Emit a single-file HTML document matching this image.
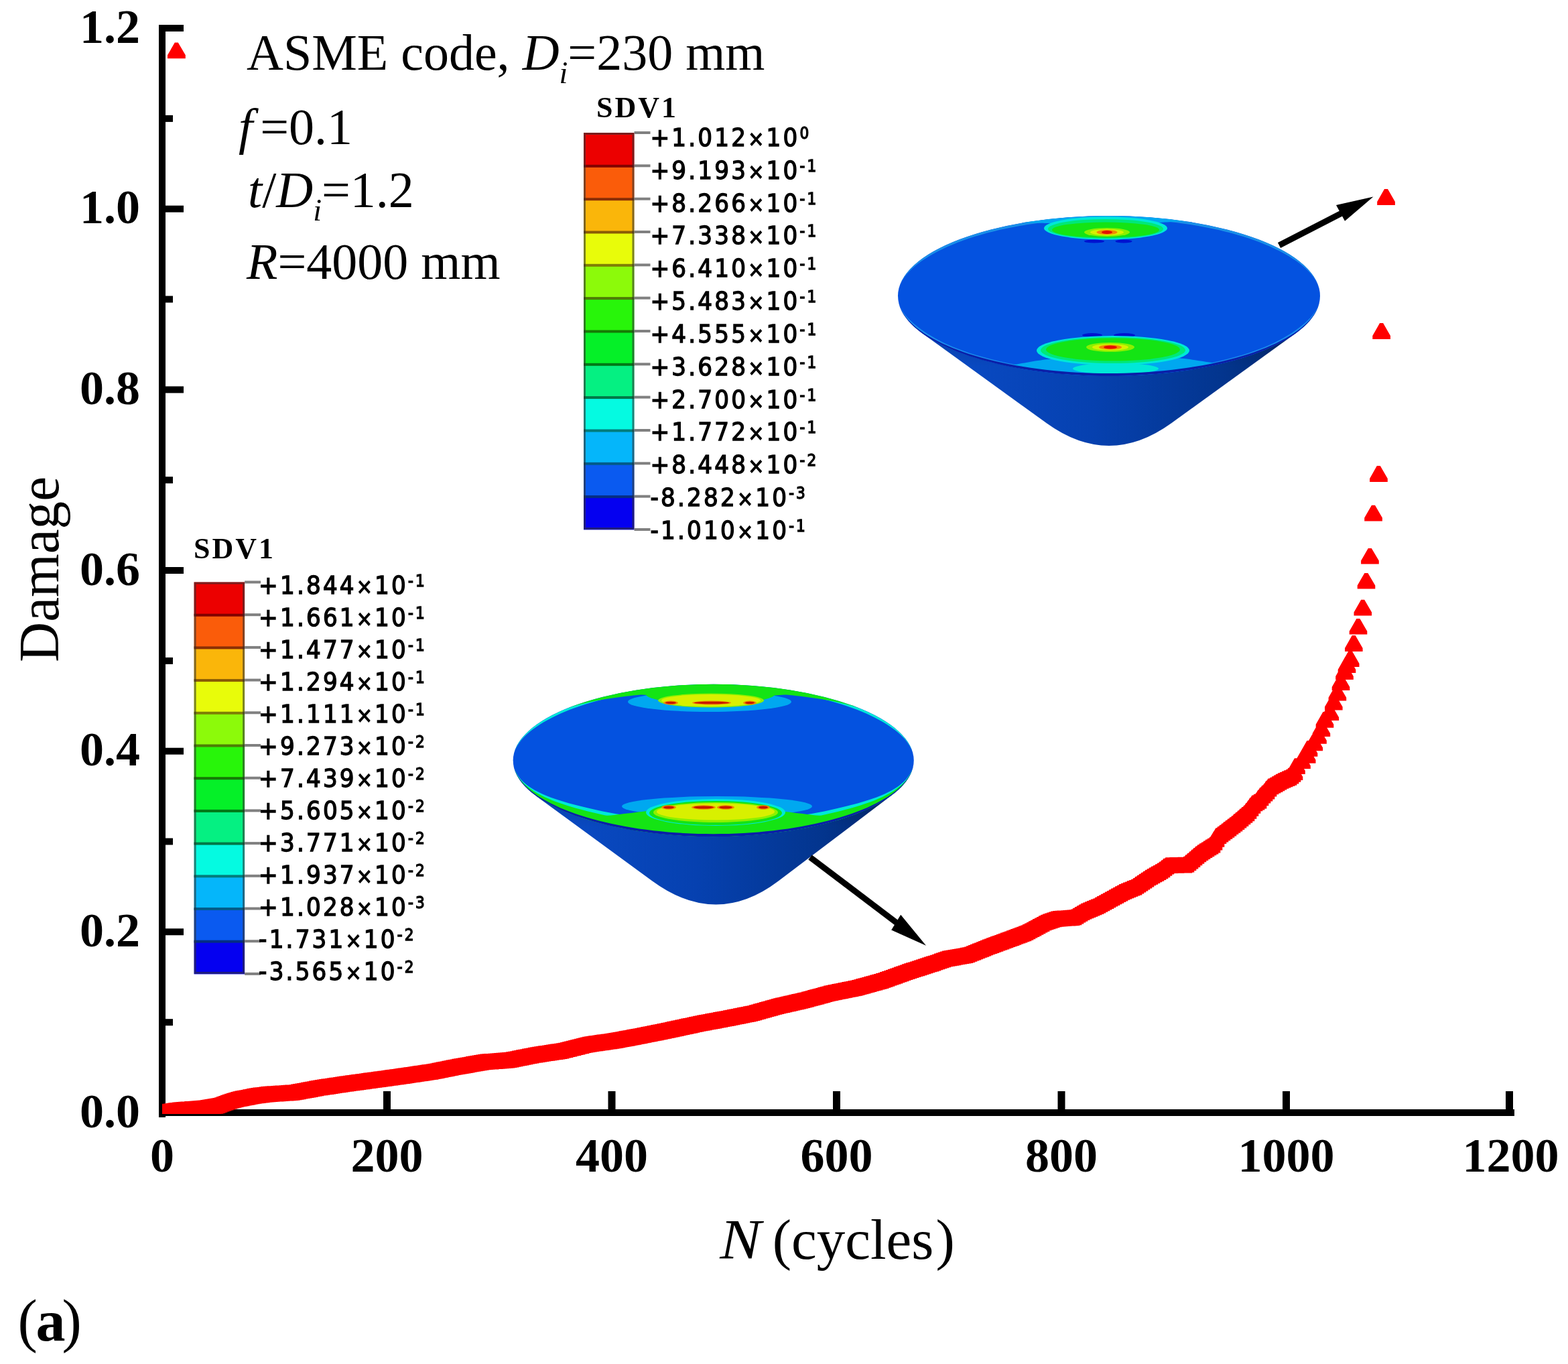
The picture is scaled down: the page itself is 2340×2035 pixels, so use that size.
<!DOCTYPE html><html><head><meta charset="utf-8"><title>Damage vs N</title><style>
html,body{margin:0;padding:0;background:#fff;overflow:hidden}svg{display:block}
.tl{font-family:'Liberation Serif','Times New Roman',serif;font-weight:bold;font-size:72px;fill:#000}
.tx{font-family:'Liberation Serif','Times New Roman',serif;font-size:76px;fill:#000}
.sdv{font-family:'Liberation Serif','Times New Roman',serif;font-weight:bold;font-size:44px;fill:#000;letter-spacing:3px}
.lg{font-family:'DejaVu Sans','Liberation Sans',sans-serif;font-stretch:condensed;font-weight:normal;font-size:38px;fill:#000;stroke:#000;stroke-width:1.3px;letter-spacing:3.2px}
.ex{font-size:24px}.mx{font-size:32px}
</style></head><body>
<svg width="2340" height="2035" viewBox="0 0 2340 2035">
<defs><linearGradient id="sideg" x1="0" y1="0" x2="1" y2="0"><stop offset="0" stop-color="#0a4cc8"/><stop offset="0.45" stop-color="#0641b0"/><stop offset="0.8" stop-color="#03358e"/><stop offset="1" stop-color="#022870"/></linearGradient><linearGradient id="sidev" x1="0" y1="0" x2="0" y2="1"><stop offset="0" stop-color="#000" stop-opacity="0.15"/><stop offset="0.3" stop-color="#000" stop-opacity="0"/><stop offset="1" stop-color="#000" stop-opacity="0"/></linearGradient><radialGradient id="hot" cx="0.5" cy="0.5" r="0.5"><stop offset="0" stop-color="#d01000"/><stop offset="0.12" stop-color="#e8e000"/><stop offset="0.3" stop-color="#20e010"/><stop offset="0.7" stop-color="#10e0b0"/><stop offset="1" stop-color="#10a0e8" stop-opacity="0"/></radialGradient></defs>
<rect width="2340" height="2035" fill="#fff"/>
<path d="M1376.1 497.0 L1561.8 631.3 Q1655.0 698.7 1748.2 631.3 L1933.9 497.0 Z" fill="url(#sideg)"/>
<path d="M1376.1 497.0 L1561.8 631.3 Q1655.0 698.7 1748.2 631.3 L1933.9 497.0 Z" fill="url(#sidev)"/>
<clipPath id="cu"><ellipse cx="1655.0" cy="441.5" rx="315.0" ry="119.5"/></clipPath>
<ellipse cx="1655.0" cy="441.5" rx="315.0" ry="119.5" fill="#0452e0"/>
<g clip-path="url(#cu)">
<path d="M1341.6 429.6 L1342.9 425.2 L1344.7 420.9 L1346.9 416.6 L1349.6 412.3 L1352.6 408.0 L1356.1 403.8 L1359.9 399.7 L1364.2 395.6 L1368.8 391.6 L1373.8 387.6 L1379.2 383.7 L1385.0 379.9 L1391.2 376.2 L1397.7 372.6 L1404.5 369.0 L1411.7 365.6 L1419.2 362.2 L1427.1 359.0 L1435.2 355.9 L1443.7 352.9 L1452.4 350.0 L1461.4 347.2 L1470.7 344.6 L1480.2 342.1 L1489.9 339.7 L1499.9 337.5 L1510.1 335.4 L1520.5 333.4 L1531.0 331.6 L1541.8 330.0 L1552.6 328.5 L1563.7 327.1 L1574.8 325.9 L1586.1 324.9 L1597.4 324.0 L1608.8 323.3 L1620.3 322.7 L1631.9 322.3 L1643.4 322.1 L1655.0 322.0 L1666.6 322.1 L1678.1 322.3 L1689.7 322.7 L1701.2 323.3 L1712.6 324.0 L1723.9 324.9 L1735.2 325.9 L1746.3 327.1 L1757.4 328.5 L1768.2 330.0 L1779.0 331.6 L1789.5 333.4 L1799.9 335.4 L1810.1 337.5 L1820.1 339.7 L1829.8 342.1 L1839.3 344.6 L1848.6 347.2 L1857.6 350.0 L1866.3 352.9 L1874.8 355.9 L1882.9 359.0 L1890.8 362.2 L1898.3 365.6 L1905.5 369.0 L1912.3 372.6 L1918.8 376.2 L1925.0 379.9 L1930.8 383.7 L1936.2 387.6 L1941.2 391.6 L1945.8 395.6 L1950.1 399.7 L1953.9 403.8 L1957.4 408.0 L1960.4 412.3 L1963.1 416.6 L1965.3 420.9 L1967.1 425.2 L1968.4 429.6 L1968.4 429.6 L1966.9 425.2 L1964.9 421.0 L1962.4 416.7 L1959.5 412.6 L1956.2 408.5 L1952.5 404.5 L1948.5 400.5 L1944.0 396.6 L1939.2 392.8 L1934.0 389.1 L1928.5 385.4 L1922.6 381.8 L1916.4 378.3 L1909.9 374.8 L1903.1 371.4 L1896.0 368.1 L1888.5 364.9 L1880.7 361.8 L1872.7 358.8 L1864.3 355.8 L1855.7 353.1 L1846.8 350.4 L1837.6 347.8 L1828.1 345.4 L1818.5 343.1 L1808.6 341.0 L1798.5 338.9 L1788.2 337.1 L1777.8 335.3 L1767.2 333.7 L1756.4 332.3 L1745.5 331.0 L1734.4 329.8 L1723.3 328.8 L1712.0 327.9 L1700.7 327.2 L1689.3 326.7 L1677.9 326.3 L1666.5 326.1 L1655.0 326.0 L1643.5 326.1 L1632.1 326.3 L1620.7 326.7 L1609.3 327.2 L1598.0 327.9 L1586.7 328.8 L1575.6 329.8 L1564.5 331.0 L1553.6 332.3 L1542.8 333.7 L1532.2 335.3 L1521.8 337.1 L1511.5 338.9 L1501.4 341.0 L1491.5 343.1 L1481.9 345.4 L1472.4 347.8 L1463.2 350.4 L1454.3 353.1 L1445.7 355.8 L1437.3 358.8 L1429.3 361.8 L1421.5 364.9 L1414.0 368.1 L1406.9 371.4 L1400.1 374.8 L1393.6 378.3 L1387.4 381.8 L1381.5 385.4 L1376.0 389.1 L1370.8 392.8 L1366.0 396.6 L1361.5 400.5 L1357.5 404.5 L1353.8 408.5 L1350.5 412.6 L1347.6 416.7 L1345.1 421.0 L1343.1 425.2 L1341.6 429.6 Z" fill="#1a90e8"/>
<path d="M1526.3 332.4 L1529.2 331.9 L1532.1 331.5 L1535.0 331.0 L1537.9 330.6 L1540.9 330.1 L1543.8 329.7 L1546.8 329.3 L1549.7 328.9 L1552.7 328.5 L1555.7 328.1 L1558.7 327.7 L1561.7 327.4 L1564.7 327.0 L1567.7 326.7 L1570.7 326.4 L1573.8 326.0 L1576.8 325.7 L1579.9 325.4 L1582.9 325.2 L1586.0 324.9 L1589.1 324.6 L1592.2 324.4 L1595.3 324.2 L1598.4 323.9 L1601.5 323.7 L1604.6 323.5 L1607.7 323.4 L1610.8 323.2 L1613.9 323.0 L1617.0 322.9 L1620.2 322.7 L1623.3 322.6 L1626.4 322.5 L1629.6 322.4 L1632.7 322.3 L1635.9 322.2 L1639.0 322.2 L1642.2 322.1 L1645.3 322.1 L1648.4 322.0 L1651.6 322.0 L1654.7 322.0 L1657.9 322.0 L1661.0 322.0 L1664.2 322.1 L1667.3 322.1 L1670.5 322.1 L1673.6 322.2 L1676.8 322.3 L1679.9 322.4 L1683.1 322.5 L1686.2 322.6 L1689.3 322.7 L1692.5 322.8 L1695.6 323.0 L1698.7 323.2 L1701.8 323.3 L1704.9 323.5 L1708.0 323.7 L1711.1 323.9 L1714.2 324.1 L1717.3 324.4 L1720.4 324.6 L1723.5 324.9 L1726.6 325.1 L1729.6 325.4 L1732.7 325.7 L1735.7 326.0 L1738.8 326.3 L1741.8 326.6 L1744.8 327.0 L1747.8 327.3 L1750.9 327.7 L1753.9 328.0 L1756.8 328.4 L1759.8 328.8 L1762.8 329.2 L1765.7 329.6 L1768.7 330.1 L1771.6 330.5 L1771.6 330.5 L1768.7 330.4 L1765.7 330.4 L1762.8 330.4 L1759.8 330.5 L1756.8 330.6 L1753.9 330.7 L1750.9 330.9 L1747.8 331.1 L1744.8 331.2 L1741.8 331.4 L1738.8 331.6 L1735.7 331.7 L1732.7 331.9 L1729.6 332.0 L1726.6 332.1 L1723.5 332.3 L1720.4 332.3 L1717.3 332.4 L1714.2 332.4 L1711.1 332.4 L1708.0 332.4 L1704.9 332.3 L1701.8 332.2 L1698.7 332.1 L1695.6 331.9 L1692.5 331.8 L1689.3 331.7 L1686.2 331.5 L1683.1 331.4 L1679.9 331.3 L1676.8 331.3 L1673.6 331.2 L1670.5 331.1 L1667.3 331.1 L1664.2 331.0 L1661.0 331.0 L1657.9 331.0 L1654.7 331.0 L1651.6 331.0 L1648.4 331.0 L1645.3 331.1 L1642.2 331.1 L1639.0 331.1 L1635.9 331.2 L1632.7 331.3 L1629.6 331.4 L1626.4 331.5 L1623.3 331.6 L1620.2 331.7 L1617.0 331.8 L1613.9 331.9 L1610.8 332.1 L1607.7 332.3 L1604.6 332.4 L1601.5 332.6 L1598.4 332.8 L1595.3 333.0 L1592.2 333.1 L1589.1 333.2 L1586.0 333.3 L1582.9 333.4 L1579.9 333.4 L1576.8 333.4 L1573.8 333.4 L1570.7 333.3 L1567.7 333.2 L1564.7 333.1 L1561.7 333.0 L1558.7 332.9 L1555.7 332.8 L1552.7 332.7 L1549.7 332.6 L1546.8 332.5 L1543.8 332.4 L1540.9 332.3 L1537.9 332.2 L1535.0 332.2 L1532.1 332.2 L1529.2 332.3 L1526.3 332.4 Z" fill="#00a8f0"/>
<path d="M1968.4 453.4 L1967.1 457.8 L1965.3 462.1 L1963.1 466.4 L1960.4 470.7 L1957.4 475.0 L1953.9 479.2 L1950.1 483.3 L1945.8 487.4 L1941.2 491.4 L1936.2 495.4 L1930.8 499.3 L1925.0 503.1 L1918.8 506.8 L1912.3 510.4 L1905.5 514.0 L1898.3 517.4 L1890.8 520.8 L1882.9 524.0 L1874.8 527.1 L1866.3 530.1 L1857.6 533.0 L1848.6 535.8 L1839.3 538.4 L1829.8 540.9 L1820.1 543.3 L1810.1 545.5 L1799.9 547.6 L1789.5 549.6 L1779.0 551.4 L1768.2 553.0 L1757.4 554.5 L1746.3 555.9 L1735.2 557.1 L1723.9 558.1 L1712.6 559.0 L1701.2 559.7 L1689.7 560.3 L1678.1 560.7 L1666.6 560.9 L1655.0 561.0 L1643.4 560.9 L1631.9 560.7 L1620.3 560.3 L1608.8 559.7 L1597.4 559.0 L1586.1 558.1 L1574.8 557.1 L1563.7 555.9 L1552.6 554.5 L1541.8 553.0 L1531.0 551.4 L1520.5 549.6 L1510.1 547.6 L1499.9 545.5 L1489.9 543.3 L1480.2 540.9 L1470.7 538.4 L1461.4 535.8 L1452.4 533.0 L1443.7 530.1 L1435.2 527.1 L1427.1 524.0 L1419.2 520.8 L1411.7 517.4 L1404.5 514.0 L1397.7 510.4 L1391.2 506.8 L1385.0 503.1 L1379.2 499.3 L1373.8 495.4 L1368.8 491.4 L1364.2 487.4 L1359.9 483.3 L1356.1 479.2 L1352.6 475.0 L1349.6 470.7 L1346.9 466.4 L1344.7 462.1 L1342.9 457.8 L1341.6 453.4 L1341.6 453.4 L1343.3 457.7 L1345.5 462.0 L1348.2 466.1 L1351.3 470.2 L1354.7 474.2 L1358.6 478.1 L1362.7 482.0 L1367.3 485.8 L1372.1 489.5 L1377.3 493.2 L1382.7 496.9 L1388.5 500.5 L1394.5 504.1 L1400.9 507.5 L1407.7 510.9 L1414.8 514.2 L1422.2 517.4 L1430.0 520.5 L1438.0 523.5 L1446.4 526.4 L1455.0 529.2 L1463.9 531.8 L1473.0 534.3 L1482.4 536.7 L1492.0 539.0 L1501.9 541.2 L1511.9 543.2 L1522.2 545.0 L1532.6 546.8 L1543.2 548.3 L1553.9 549.8 L1564.8 551.1 L1575.8 552.2 L1586.9 553.2 L1598.1 554.1 L1609.4 554.8 L1620.8 555.3 L1632.1 555.7 L1643.6 555.9 L1655.0 556.0 L1666.4 555.9 L1677.9 555.7 L1689.2 555.3 L1700.6 554.8 L1711.9 554.1 L1723.1 553.2 L1734.2 552.2 L1745.2 551.1 L1756.1 549.8 L1766.8 548.3 L1777.4 546.8 L1787.8 545.0 L1798.1 543.2 L1808.1 541.2 L1818.0 539.0 L1827.6 536.7 L1837.0 534.3 L1846.1 531.8 L1855.0 529.2 L1863.6 526.4 L1872.0 523.5 L1880.0 520.5 L1887.8 517.4 L1895.2 514.2 L1902.3 510.9 L1909.1 507.5 L1915.5 504.1 L1921.5 500.5 L1927.3 496.9 L1932.7 493.2 L1937.9 489.5 L1942.7 485.8 L1947.3 482.0 L1951.4 478.1 L1955.3 474.2 L1958.7 470.2 L1961.8 466.1 L1964.5 462.0 L1966.7 457.7 L1968.4 453.4 Z" fill="#1a8cec"/>
<path d="M1825.2 542.1 L1821.6 542.9 L1817.9 543.8 L1814.2 544.6 L1810.5 545.4 L1806.7 546.2 L1802.9 547.0 L1799.1 547.8 L1795.3 548.5 L1791.4 549.2 L1787.6 549.9 L1783.6 550.6 L1779.7 551.2 L1775.8 551.9 L1771.8 552.5 L1767.8 553.1 L1763.7 553.7 L1759.7 554.2 L1755.6 554.7 L1751.6 555.2 L1747.5 555.7 L1743.3 556.2 L1739.2 556.7 L1735.1 557.1 L1730.9 557.5 L1726.7 557.9 L1722.5 558.2 L1718.3 558.6 L1714.1 558.9 L1709.9 559.2 L1705.6 559.4 L1701.4 559.7 L1697.1 559.9 L1692.9 560.1 L1688.6 560.3 L1684.3 560.5 L1680.0 560.6 L1675.8 560.7 L1671.5 560.8 L1667.2 560.9 L1662.9 561.0 L1658.6 561.0 L1654.3 561.0 L1650.0 561.0 L1645.7 560.9 L1641.4 560.9 L1637.1 560.8 L1632.8 560.7 L1628.5 560.6 L1624.2 560.4 L1620.0 560.3 L1615.7 560.1 L1611.4 559.9 L1607.2 559.6 L1602.9 559.4 L1598.7 559.1 L1594.5 558.8 L1590.3 558.4 L1586.1 558.1 L1581.9 557.7 L1577.7 557.3 L1573.5 556.9 L1569.4 556.5 L1565.3 556.0 L1561.2 555.6 L1557.1 555.1 L1553.0 554.6 L1548.9 554.0 L1544.9 553.5 L1540.9 552.9 L1536.9 552.3 L1532.9 551.7 L1529.0 551.0 L1525.0 550.4 L1521.1 549.7 L1517.3 549.0 L1513.4 548.2 L1509.6 547.5 L1505.8 546.7 L1502.0 546.0 L1498.3 545.2 L1498.3 545.2 L1502.0 545.2 L1505.8 544.9 L1509.6 544.5 L1513.4 544.0 L1517.3 543.4 L1521.1 542.8 L1525.0 542.1 L1529.0 541.4 L1532.9 540.7 L1536.9 540.0 L1540.9 539.3 L1544.9 538.6 L1548.9 538.0 L1553.0 537.4 L1557.1 536.8 L1561.2 536.3 L1565.3 535.9 L1569.4 535.5 L1573.5 535.2 L1577.7 535.0 L1581.9 534.9 L1586.1 534.9 L1590.3 535.0 L1594.5 535.2 L1598.7 535.5 L1602.9 535.7 L1607.2 535.9 L1611.4 536.1 L1615.7 536.3 L1620.0 536.4 L1624.2 536.5 L1628.5 536.7 L1632.8 536.8 L1637.1 536.8 L1641.4 536.9 L1645.7 537.0 L1650.0 537.0 L1654.3 537.0 L1658.6 537.0 L1662.9 537.0 L1667.2 536.9 L1671.5 536.9 L1675.8 536.8 L1680.0 536.7 L1684.3 536.6 L1688.6 536.5 L1692.9 536.3 L1697.1 536.1 L1701.4 536.0 L1705.6 535.8 L1709.9 535.5 L1714.1 535.3 L1718.3 535.1 L1722.5 534.8 L1726.7 534.5 L1730.9 534.2 L1735.1 533.9 L1739.2 533.8 L1743.3 533.7 L1747.5 533.7 L1751.6 533.8 L1755.6 534.1 L1759.7 534.3 L1763.7 534.7 L1767.8 535.1 L1771.8 535.6 L1775.8 536.1 L1779.7 536.7 L1783.6 537.3 L1787.6 537.9 L1791.4 538.5 L1795.3 539.1 L1799.1 539.7 L1802.9 540.3 L1806.7 540.8 L1810.5 541.3 L1814.2 541.7 L1817.9 542.0 L1821.6 542.2 L1825.2 542.1 Z" fill="#00a8f0"/>
<ellipse cx="1650.0" cy="340.5" rx="92.0" ry="17.0" fill="#00e8d8"/><ellipse cx="1650.0" cy="341.5" rx="86.0" ry="14.5" fill="#00e878"/><ellipse cx="1650.0" cy="343.0" rx="80.0" ry="11.5" fill="#14e414"/><ellipse cx="1652.0" cy="346.5" rx="34.0" ry="6.5" fill="#8cf000"/><ellipse cx="1652.0" cy="346.5" rx="25.0" ry="4.7" fill="#d8f000"/><ellipse cx="1652.0" cy="346.5" rx="15.5" ry="3.5" fill="#f08a00"/><ellipse cx="1652.0" cy="346.5" rx="8.0" ry="2.4" fill="#e41000"/>
<ellipse cx="1633" cy="360" rx="15" ry="2.6" fill="#0012d0"/><ellipse cx="1677" cy="360" rx="12.5" ry="2.6" fill="#0012d0"/>
<ellipse cx="1630" cy="500" rx="15" ry="3" fill="#0012d0"/><ellipse cx="1678" cy="500" rx="16" ry="3" fill="#0012d0"/>
<ellipse cx="1661.0" cy="523.0" rx="114.0" ry="22.0" fill="#00e8d8"/><ellipse cx="1661.0" cy="522.5" rx="108.0" ry="19.5" fill="#00e878"/><ellipse cx="1661.0" cy="521.5" rx="100.0" ry="17.0" fill="#14e414"/><ellipse cx="1657.0" cy="518.0" rx="36.0" ry="7.0" fill="#8cf000"/><ellipse cx="1657.0" cy="518.0" rx="27.0" ry="5.0" fill="#d8f000"/><ellipse cx="1657.0" cy="518.0" rx="17.0" ry="3.6" fill="#f08a00"/><ellipse cx="1657.0" cy="518.0" rx="10.0" ry="2.4" fill="#e41000"/>
<ellipse cx="1665" cy="550" rx="64" ry="8" fill="#00e8d8"/>
</g>
<path d="M1969.6 447.5 L1968.8 452.0 L1967.5 456.5 L1965.8 461.0 L1963.6 465.5 L1961.0 469.9 L1957.9 474.3 L1954.4 478.7 L1950.5 482.9 L1946.1 487.2 L1941.3 491.3 L1936.1 495.4 L1930.5 499.4 L1924.5 503.4 L1918.1 507.2 L1911.3 511.0 L1904.2 514.6 L1896.7 518.1 L1888.8 521.6 L1880.6 524.9 L1872.1 528.1 L1863.3 531.2 L1854.1 534.1 L1844.7 536.9 L1835.0 539.6 L1825.1 542.1 L1814.9 544.5 L1804.4 546.7 L1793.8 548.8 L1782.9 550.7 L1771.9 552.5 L1760.7 554.1 L1749.3 555.5 L1737.8 556.8 L1726.2 557.9 L1714.5 558.8 L1702.7 559.6 L1690.9 560.2 L1678.9 560.7 L1667.0 560.9 L1655.0 561.0 L1643.0 560.9 L1631.1 560.7 L1619.1 560.2 L1607.3 559.6 L1595.5 558.8 L1583.8 557.9 L1572.2 556.8 L1560.7 555.5 L1549.3 554.1 L1538.1 552.5 L1527.1 550.7 L1516.2 548.8 L1505.6 546.7 L1495.1 544.5 L1484.9 542.1 L1475.0 539.6 L1465.3 536.9 L1455.9 534.1 L1446.7 531.2 L1437.9 528.1 L1429.4 524.9 L1421.2 521.6 L1413.3 518.1 L1405.8 514.6 L1398.7 511.0 L1391.9 507.2 L1385.5 503.4 L1379.5 499.4 L1373.9 495.4 L1368.7 491.3 L1363.9 487.2 L1359.5 482.9 L1355.6 478.7 L1352.1 474.3 L1349.0 469.9 L1346.4 465.5 L1344.2 461.0 L1342.5 456.5 L1341.2 452.0 L1340.4 447.5 L1340.4 447.3 L1341.2 451.7 L1342.5 456.0 L1344.2 460.4 L1346.4 464.7 L1349.0 469.0 L1352.1 473.2 L1355.6 477.4 L1359.5 481.6 L1363.9 485.6 L1368.7 489.7 L1373.9 493.6 L1379.5 497.5 L1385.5 501.3 L1391.9 505.0 L1398.7 508.6 L1405.8 512.2 L1413.3 515.6 L1421.2 518.9 L1429.4 522.1 L1437.9 525.2 L1446.7 528.2 L1455.9 531.0 L1465.3 533.7 L1475.0 536.3 L1484.9 538.7 L1495.1 541.0 L1505.6 543.2 L1516.2 545.2 L1527.1 547.0 L1538.1 548.8 L1549.3 550.3 L1560.7 551.7 L1572.2 552.9 L1583.8 554.0 L1595.5 554.9 L1607.3 555.7 L1619.1 556.2 L1631.1 556.7 L1643.0 556.9 L1655.0 557.0 L1667.0 556.9 L1678.9 556.7 L1690.9 556.2 L1702.7 555.7 L1714.5 554.9 L1726.2 554.0 L1737.8 552.9 L1749.3 551.7 L1760.7 550.3 L1771.9 548.8 L1782.9 547.0 L1793.8 545.2 L1804.4 543.2 L1814.9 541.0 L1825.1 538.7 L1835.0 536.3 L1844.7 533.7 L1854.1 531.0 L1863.3 528.2 L1872.1 525.2 L1880.6 522.1 L1888.8 518.9 L1896.7 515.6 L1904.2 512.2 L1911.3 508.6 L1918.1 505.0 L1924.5 501.3 L1930.5 497.5 L1936.1 493.6 L1941.3 489.7 L1946.1 485.6 L1950.5 481.6 L1954.4 477.4 L1957.9 473.2 L1961.0 469.0 L1963.6 464.7 L1965.8 460.4 L1967.5 456.0 L1968.8 451.7 L1969.6 447.3 Z" fill="#0a1fa8"/>
<path d="M799.3 1186.9 L973.2 1314.3 Q1069.2 1384.7 1161.9 1314.3 L1331.9 1185.5 Z" fill="url(#sideg)"/>
<path d="M799.3 1186.9 L973.2 1314.3 Q1069.2 1384.7 1161.9 1314.3 L1331.9 1185.5 Z" fill="url(#sidev)"/>
<clipPath id="cl"><ellipse cx="1064.7" cy="1134.5" rx="299.0" ry="113.7"/></clipPath>
<ellipse cx="1064.7" cy="1134.5" rx="299.0" ry="113.7" fill="#0452e0"/>
<g clip-path="url(#cl)">
<path d="M767.2 1123.1 L768.5 1119.0 L770.2 1114.9 L772.3 1110.8 L774.8 1106.7 L777.7 1102.7 L780.9 1098.7 L784.6 1094.7 L788.6 1090.8 L793.0 1087.0 L797.8 1083.2 L802.9 1079.5 L808.4 1075.9 L814.3 1072.4 L820.4 1068.9 L827.0 1065.6 L833.8 1062.3 L840.9 1059.1 L848.4 1056.0 L856.1 1053.0 L864.1 1050.2 L872.4 1047.4 L880.9 1044.8 L889.7 1042.3 L898.8 1039.9 L908.0 1037.7 L917.5 1035.5 L927.2 1033.5 L937.0 1031.7 L947.0 1030.0 L957.2 1028.4 L967.5 1027.0 L978.0 1025.7 L988.6 1024.5 L999.3 1023.6 L1010.0 1022.7 L1020.9 1022.0 L1031.8 1021.5 L1042.7 1021.1 L1053.7 1020.9 L1064.7 1020.8 L1075.7 1020.9 L1086.7 1021.1 L1097.6 1021.5 L1108.5 1022.0 L1119.4 1022.7 L1130.1 1023.6 L1140.8 1024.5 L1151.4 1025.7 L1161.9 1027.0 L1172.2 1028.4 L1182.4 1030.0 L1192.4 1031.7 L1202.2 1033.5 L1211.9 1035.5 L1221.4 1037.7 L1230.6 1039.9 L1239.7 1042.3 L1248.5 1044.8 L1257.0 1047.4 L1265.3 1050.2 L1273.3 1053.0 L1281.0 1056.0 L1288.5 1059.1 L1295.6 1062.3 L1302.4 1065.6 L1309.0 1068.9 L1315.1 1072.4 L1321.0 1075.9 L1326.5 1079.5 L1331.6 1083.2 L1336.4 1087.0 L1340.8 1090.8 L1344.8 1094.7 L1348.5 1098.7 L1351.7 1102.7 L1354.6 1106.7 L1357.1 1110.8 L1359.2 1114.9 L1360.9 1119.0 L1362.2 1123.1 L1362.2 1123.1 L1360.7 1119.0 L1358.8 1115.0 L1356.4 1111.0 L1353.7 1107.0 L1350.6 1103.1 L1347.1 1099.3 L1343.2 1095.5 L1338.9 1091.8 L1334.4 1088.2 L1329.4 1084.7 L1324.2 1081.2 L1318.6 1077.8 L1312.7 1074.5 L1306.6 1071.2 L1300.1 1068.0 L1293.3 1064.8 L1286.2 1061.7 L1278.9 1058.8 L1271.2 1055.9 L1263.3 1053.2 L1255.1 1050.5 L1246.6 1048.0 L1237.9 1045.5 L1229.0 1043.2 L1219.8 1041.1 L1210.4 1039.0 L1200.9 1037.1 L1191.1 1035.3 L1181.2 1033.7 L1171.1 1032.1 L1160.9 1030.8 L1150.5 1029.5 L1140.0 1028.4 L1129.5 1027.5 L1118.8 1026.6 L1108.1 1026.0 L1097.3 1025.5 L1086.4 1025.1 L1075.6 1024.9 L1064.7 1024.8 L1053.8 1024.9 L1043.0 1025.1 L1032.1 1025.5 L1021.3 1026.0 L1010.6 1026.6 L999.9 1027.5 L989.4 1028.4 L978.9 1029.5 L968.5 1030.8 L958.3 1032.1 L948.2 1033.7 L938.3 1035.3 L928.5 1037.1 L919.0 1039.0 L909.6 1041.1 L900.4 1043.2 L891.5 1045.5 L882.8 1048.0 L874.3 1050.5 L866.1 1053.2 L858.2 1055.9 L850.5 1058.8 L843.2 1061.7 L836.1 1064.8 L829.3 1068.0 L822.8 1071.2 L816.7 1074.5 L810.8 1077.8 L805.2 1081.2 L800.0 1084.7 L795.0 1088.2 L790.5 1091.8 L786.2 1095.5 L782.3 1099.3 L778.8 1103.1 L775.7 1107.0 L773.0 1111.0 L770.6 1115.0 L768.7 1119.0 L767.2 1123.1 Z" fill="#00e8d8"/>
<path d="M845.9 1057.0 L850.2 1055.3 L854.5 1053.6 L858.9 1052.0 L863.4 1050.4 L867.9 1048.9 L872.6 1047.4 L877.4 1045.9 L882.2 1044.4 L887.1 1043.0 L892.0 1041.7 L897.1 1040.3 L902.2 1039.1 L907.4 1037.8 L912.6 1036.6 L918.0 1035.4 L923.3 1034.3 L928.8 1033.2 L934.3 1032.2 L939.8 1031.2 L945.4 1030.2 L951.1 1029.3 L956.8 1028.5 L962.5 1027.6 L968.3 1026.9 L974.1 1026.1 L980.0 1025.5 L985.9 1024.8 L991.8 1024.2 L997.8 1023.7 L1003.8 1023.2 L1009.8 1022.7 L1015.8 1022.3 L1021.9 1022.0 L1028.0 1021.7 L1034.1 1021.4 L1040.2 1021.2 L1046.3 1021.0 L1052.4 1020.9 L1058.6 1020.8 L1064.7 1020.8 L1070.8 1020.8 L1077.0 1020.9 L1083.1 1021.0 L1089.2 1021.2 L1095.3 1021.4 L1101.4 1021.7 L1107.5 1022.0 L1113.6 1022.3 L1119.6 1022.7 L1125.6 1023.2 L1131.6 1023.7 L1137.6 1024.2 L1143.5 1024.8 L1149.4 1025.5 L1155.3 1026.1 L1161.1 1026.9 L1166.9 1027.6 L1172.6 1028.5 L1178.3 1029.3 L1184.0 1030.2 L1189.6 1031.2 L1195.1 1032.2 L1200.6 1033.2 L1206.1 1034.3 L1211.4 1035.4 L1216.8 1036.6 L1222.0 1037.8 L1227.2 1039.1 L1232.3 1040.3 L1237.4 1041.7 L1242.3 1043.0 L1247.2 1044.4 L1252.0 1045.9 L1256.8 1047.4 L1261.5 1048.9 L1266.0 1050.4 L1270.5 1052.0 L1274.9 1053.6 L1279.2 1055.3 L1283.5 1057.0 L1283.5 1057.0 L1279.2 1055.5 L1274.9 1054.1 L1270.5 1052.8 L1266.0 1051.5 L1261.5 1050.3 L1256.8 1049.2 L1252.0 1048.1 L1247.2 1047.1 L1242.3 1046.1 L1237.4 1045.1 L1232.3 1044.2 L1227.2 1043.3 L1222.0 1042.5 L1216.8 1041.7 L1211.4 1040.9 L1206.1 1040.2 L1200.6 1039.5 L1195.1 1038.8 L1189.6 1038.2 L1184.0 1037.5 L1178.3 1036.9 L1172.6 1036.3 L1166.9 1035.7 L1161.1 1035.1 L1155.3 1034.6 L1149.4 1034.0 L1143.5 1033.5 L1137.6 1033.0 L1131.6 1032.5 L1125.6 1032.0 L1119.6 1031.6 L1113.6 1031.2 L1107.5 1030.9 L1101.4 1030.6 L1095.3 1030.4 L1089.2 1030.2 L1083.1 1030.0 L1077.0 1029.9 L1070.8 1029.8 L1064.7 1029.8 L1058.6 1029.8 L1052.4 1029.9 L1046.3 1030.0 L1040.2 1030.2 L1034.1 1030.4 L1028.0 1030.6 L1021.9 1030.9 L1015.8 1031.2 L1009.8 1031.6 L1003.8 1032.0 L997.8 1032.5 L991.8 1033.0 L985.9 1033.5 L980.0 1034.0 L974.1 1034.6 L968.3 1035.1 L962.5 1035.7 L956.8 1036.3 L951.1 1036.9 L945.4 1037.5 L939.8 1038.2 L934.3 1038.8 L928.8 1039.5 L923.3 1040.2 L918.0 1040.9 L912.6 1041.7 L907.4 1042.5 L902.2 1043.3 L897.1 1044.2 L892.0 1045.1 L887.1 1046.1 L882.2 1047.1 L877.4 1048.1 L872.6 1049.2 L867.9 1050.3 L863.4 1051.5 L858.9 1052.8 L854.5 1054.1 L850.2 1055.5 L845.9 1057.0 Z" fill="#14e414"/>
<ellipse cx="1059.0" cy="1047.0" rx="122.0" ry="15.0" fill="#00a8f0"/>
<path d="M915.9 1035.9 L919.3 1035.1 L922.7 1034.4 L926.2 1033.7 L929.6 1033.1 L933.1 1032.4 L936.6 1031.8 L940.1 1031.1 L943.7 1030.5 L947.3 1029.9 L950.9 1029.4 L954.5 1028.8 L958.1 1028.3 L961.7 1027.8 L965.4 1027.3 L969.1 1026.8 L972.8 1026.3 L976.5 1025.9 L980.2 1025.4 L984.0 1025.0 L987.7 1024.6 L991.5 1024.3 L995.3 1023.9 L999.1 1023.6 L1002.9 1023.3 L1006.7 1023.0 L1010.5 1022.7 L1014.3 1022.4 L1018.2 1022.2 L1022.0 1022.0 L1025.9 1021.8 L1029.7 1021.6 L1033.6 1021.4 L1037.5 1021.3 L1041.4 1021.1 L1045.2 1021.0 L1049.1 1021.0 L1053.0 1020.9 L1056.9 1020.8 L1060.8 1020.8 L1064.7 1020.8 L1068.6 1020.8 L1072.5 1020.8 L1076.4 1020.9 L1080.3 1021.0 L1084.2 1021.0 L1088.0 1021.1 L1091.9 1021.3 L1095.8 1021.4 L1099.7 1021.6 L1103.5 1021.8 L1107.4 1022.0 L1111.2 1022.2 L1115.1 1022.4 L1118.9 1022.7 L1122.7 1023.0 L1126.5 1023.3 L1130.3 1023.6 L1134.1 1023.9 L1137.9 1024.3 L1141.7 1024.6 L1145.4 1025.0 L1149.2 1025.4 L1152.9 1025.9 L1156.6 1026.3 L1160.3 1026.8 L1164.0 1027.3 L1167.7 1027.8 L1171.3 1028.3 L1174.9 1028.8 L1178.5 1029.4 L1182.1 1029.9 L1185.7 1030.5 L1189.3 1031.1 L1192.8 1031.8 L1196.3 1032.4 L1199.8 1033.1 L1203.2 1033.7 L1206.7 1034.4 L1210.1 1035.1 L1213.5 1035.9 L1213.5 1035.9 L1210.1 1035.6 L1206.7 1035.4 L1203.2 1035.3 L1199.8 1035.3 L1196.3 1035.4 L1192.8 1035.4 L1189.3 1035.6 L1185.7 1035.7 L1182.1 1035.9 L1178.5 1036.1 L1174.9 1036.3 L1171.3 1036.6 L1167.7 1036.8 L1164.0 1037.1 L1160.3 1037.3 L1156.6 1037.6 L1152.9 1037.9 L1149.2 1038.1 L1145.4 1038.3 L1141.7 1038.6 L1137.9 1038.8 L1134.1 1039.0 L1130.3 1039.1 L1126.5 1039.3 L1122.7 1039.4 L1118.9 1039.5 L1115.1 1039.5 L1111.2 1039.6 L1107.4 1039.5 L1103.5 1039.5 L1099.7 1039.4 L1095.8 1039.3 L1091.9 1039.2 L1088.0 1039.1 L1084.2 1039.0 L1080.3 1038.9 L1076.4 1038.9 L1072.5 1038.8 L1068.6 1038.8 L1064.7 1038.8 L1060.8 1038.8 L1056.9 1038.8 L1053.0 1038.9 L1049.1 1038.9 L1045.2 1039.0 L1041.4 1039.1 L1037.5 1039.2 L1033.6 1039.3 L1029.7 1039.4 L1025.9 1039.5 L1022.0 1039.5 L1018.2 1039.6 L1014.3 1039.5 L1010.5 1039.5 L1006.7 1039.4 L1002.9 1039.3 L999.1 1039.1 L995.3 1039.0 L991.5 1038.8 L987.7 1038.6 L984.0 1038.3 L980.2 1038.1 L976.5 1037.9 L972.8 1037.6 L969.1 1037.3 L965.4 1037.1 L961.7 1036.8 L958.1 1036.6 L954.5 1036.3 L950.9 1036.1 L947.3 1035.9 L943.7 1035.7 L940.1 1035.6 L936.6 1035.4 L933.1 1035.4 L929.6 1035.3 L926.2 1035.3 L922.7 1035.4 L919.3 1035.6 L915.9 1035.9 Z" fill="#14e414"/>
<ellipse cx="1060.0" cy="1036.0" rx="96.0" ry="14.0" fill="#14e414"/>
<ellipse cx="1061.0" cy="1045.0" rx="79.0" ry="10.5" fill="#8cf000"/><ellipse cx="1061.0" cy="1045.0" rx="74.0" ry="9.0" fill="#d8f000"/>
<ellipse cx="1001" cy="1048.5" rx="11" ry="3" fill="#f08a00"/>
<ellipse cx="1001" cy="1048.5" rx="8" ry="1.8" fill="#c81800"/>
<ellipse cx="1062" cy="1048.5" rx="29" ry="3" fill="#f08a00"/>
<ellipse cx="1062" cy="1048.5" rx="26" ry="1.8" fill="#c81800"/>
<ellipse cx="1119" cy="1048.5" rx="10" ry="3" fill="#f08a00"/>
<ellipse cx="1119" cy="1048.5" rx="7" ry="1.8" fill="#c81800"/>
<ellipse cx="1070.0" cy="1203.0" rx="142.0" ry="15.0" fill="#00a8f0"/>
<path d="M1362.7 1143.6 L1361.6 1147.8 L1360.1 1152.0 L1358.2 1156.2 L1355.9 1160.3 L1353.2 1164.4 L1350.0 1168.5 L1346.5 1172.5 L1342.6 1176.5 L1338.3 1180.4 L1333.6 1184.2 L1328.5 1188.0 L1323.1 1191.7 L1317.3 1195.3 L1311.2 1198.9 L1304.7 1202.3 L1297.9 1205.7 L1290.7 1208.9 L1283.3 1212.1 L1275.5 1215.1 L1267.5 1218.0 L1259.2 1220.9 L1250.6 1223.6 L1241.7 1226.1 L1232.6 1228.6 L1223.3 1230.9 L1213.7 1233.1 L1204.0 1235.1 L1194.0 1237.0 L1183.9 1238.8 L1173.6 1240.4 L1163.1 1241.9 L1152.5 1243.2 L1141.8 1244.4 L1131.0 1245.4 L1120.1 1246.2 L1109.1 1246.9 L1098.1 1247.5 L1087.0 1247.9 L1075.8 1248.1 L1064.7 1248.2 L1053.6 1248.1 L1042.4 1247.9 L1031.3 1247.5 L1020.3 1246.9 L1009.3 1246.2 L998.4 1245.4 L987.6 1244.4 L976.9 1243.2 L966.3 1241.9 L955.8 1240.4 L945.5 1238.8 L935.4 1237.0 L925.4 1235.1 L915.7 1233.1 L906.1 1230.9 L896.8 1228.6 L887.7 1226.1 L878.8 1223.6 L870.2 1220.9 L861.9 1218.0 L853.9 1215.1 L846.1 1212.1 L838.7 1208.9 L831.5 1205.7 L824.7 1202.3 L818.2 1198.9 L812.1 1195.3 L806.3 1191.7 L800.9 1188.0 L795.8 1184.2 L791.1 1180.4 L786.8 1176.5 L782.9 1172.5 L779.4 1168.5 L776.2 1164.4 L773.5 1160.3 L771.2 1156.2 L769.3 1152.0 L767.8 1147.8 L766.7 1143.6 L766.7 1143.6 L767.9 1147.7 L769.7 1151.7 L771.9 1155.6 L774.5 1159.3 L777.5 1162.9 L780.9 1166.4 L784.7 1169.7 L788.8 1172.9 L793.4 1176.0 L798.3 1178.9 L803.6 1181.7 L809.2 1184.4 L815.1 1187.0 L821.3 1189.4 L827.9 1191.8 L834.8 1194.1 L842.0 1196.3 L849.4 1198.4 L857.2 1200.5 L865.2 1202.5 L873.4 1204.5 L881.9 1206.5 L890.6 1208.4 L899.6 1210.4 L908.8 1212.2 L918.2 1214.0 L927.8 1215.6 L937.6 1217.2 L947.5 1218.6 L957.6 1219.9 L967.9 1221.1 L978.3 1222.2 L988.9 1223.1 L999.5 1223.9 L1010.2 1224.6 L1021.0 1225.2 L1031.9 1225.6 L1042.8 1225.9 L1053.7 1226.1 L1064.7 1226.2 L1075.7 1226.1 L1086.6 1225.9 L1097.5 1225.6 L1108.4 1225.2 L1119.2 1224.6 L1129.9 1223.9 L1140.5 1223.1 L1151.1 1222.2 L1161.5 1221.1 L1171.8 1219.9 L1181.9 1218.6 L1191.8 1217.2 L1201.6 1215.6 L1211.2 1214.0 L1220.6 1212.2 L1229.8 1210.4 L1238.8 1208.4 L1247.5 1206.5 L1256.0 1204.5 L1264.2 1202.5 L1272.2 1200.5 L1280.0 1198.4 L1287.4 1196.3 L1294.6 1194.1 L1301.5 1191.8 L1308.1 1189.4 L1314.3 1187.0 L1320.2 1184.4 L1325.8 1181.7 L1331.1 1178.9 L1336.0 1176.0 L1340.6 1172.9 L1344.7 1169.7 L1348.5 1166.4 L1351.9 1162.9 L1354.9 1159.3 L1357.5 1155.6 L1359.7 1151.7 L1361.5 1147.7 L1362.7 1143.6 Z" fill="#00e8d8"/>
<path d="M1361.5 1148.1 L1360.1 1152.2 L1358.2 1156.3 L1355.9 1160.3 L1353.3 1164.3 L1350.2 1168.2 L1346.8 1172.2 L1343.0 1176.0 L1338.9 1179.8 L1334.4 1183.6 L1329.5 1187.3 L1324.3 1190.9 L1318.8 1194.4 L1312.9 1197.9 L1306.7 1201.3 L1300.2 1204.6 L1293.3 1207.8 L1286.2 1210.9 L1278.8 1213.9 L1271.0 1216.8 L1263.1 1219.6 L1254.8 1222.3 L1246.3 1224.8 L1237.6 1227.3 L1228.6 1229.6 L1219.5 1231.8 L1210.1 1233.9 L1200.5 1235.8 L1190.8 1237.6 L1180.9 1239.3 L1170.8 1240.8 L1160.6 1242.2 L1150.2 1243.4 L1139.8 1244.6 L1129.3 1245.5 L1118.6 1246.3 L1107.9 1247.0 L1097.2 1247.5 L1086.4 1247.9 L1075.5 1248.1 L1064.7 1248.2 L1053.9 1248.1 L1043.0 1247.9 L1032.2 1247.5 L1021.5 1247.0 L1010.8 1246.3 L1000.1 1245.5 L989.6 1244.6 L979.2 1243.4 L968.8 1242.2 L958.6 1240.8 L948.5 1239.3 L938.6 1237.6 L928.9 1235.8 L919.3 1233.9 L909.9 1231.8 L900.8 1229.6 L891.8 1227.3 L883.1 1224.8 L874.6 1222.3 L866.3 1219.6 L858.4 1216.8 L850.6 1213.9 L843.2 1210.9 L836.1 1207.8 L829.2 1204.6 L822.7 1201.3 L816.5 1197.9 L810.6 1194.4 L805.1 1190.9 L799.9 1187.3 L795.0 1183.6 L790.5 1179.8 L786.4 1176.0 L782.6 1172.2 L779.2 1168.2 L776.1 1164.3 L773.5 1160.3 L771.2 1156.3 L769.3 1152.2 L767.9 1148.1 L767.9 1148.1 L769.5 1152.1 L771.5 1156.0 L773.9 1159.8 L776.7 1163.5 L779.9 1167.0 L783.5 1170.5 L787.4 1173.8 L791.7 1177.1 L796.3 1180.2 L801.3 1183.2 L806.6 1186.1 L812.3 1188.9 L818.3 1191.6 L824.5 1194.2 L831.1 1196.7 L838.0 1199.1 L845.2 1201.4 L852.6 1203.7 L860.3 1205.9 L868.2 1208.1 L876.4 1210.2 L884.9 1212.2 L893.5 1214.2 L902.4 1216.2 L911.5 1218.1 L920.8 1219.9 L930.2 1221.5 L939.9 1223.1 L949.7 1224.5 L959.7 1225.8 L969.8 1227.0 L980.0 1228.1 L990.4 1229.1 L1000.8 1229.9 L1011.3 1230.6 L1021.9 1231.2 L1032.6 1231.6 L1043.2 1231.9 L1054.0 1232.1 L1064.7 1232.2 L1075.4 1232.1 L1086.2 1231.9 L1096.8 1231.6 L1107.5 1231.2 L1118.1 1230.6 L1128.6 1229.9 L1139.0 1229.1 L1149.4 1228.1 L1159.6 1227.0 L1169.7 1225.8 L1179.7 1224.5 L1189.5 1223.1 L1199.2 1221.5 L1208.6 1219.9 L1217.9 1218.1 L1227.0 1216.2 L1235.9 1214.2 L1244.5 1212.2 L1253.0 1210.2 L1261.2 1208.1 L1269.1 1205.9 L1276.8 1203.7 L1284.2 1201.4 L1291.4 1199.1 L1298.3 1196.7 L1304.9 1194.2 L1311.1 1191.6 L1317.1 1188.9 L1322.8 1186.1 L1328.1 1183.2 L1333.1 1180.2 L1337.7 1177.1 L1342.0 1173.8 L1345.9 1170.5 L1349.5 1167.0 L1352.7 1163.5 L1355.5 1159.8 L1357.9 1156.0 L1359.9 1152.1 L1361.5 1148.1 Z" fill="#14e414"/>
<path d="M1273.0 1216.1 L1268.8 1217.6 L1264.6 1219.1 L1260.3 1220.5 L1255.9 1221.9 L1251.4 1223.3 L1246.9 1224.7 L1242.3 1226.0 L1237.6 1227.3 L1232.9 1228.5 L1228.1 1229.7 L1223.2 1230.9 L1218.3 1232.0 L1213.3 1233.2 L1208.3 1234.2 L1203.2 1235.3 L1198.1 1236.3 L1192.9 1237.2 L1187.7 1238.1 L1182.4 1239.0 L1177.1 1239.9 L1171.7 1240.7 L1166.3 1241.4 L1160.9 1242.2 L1155.4 1242.8 L1149.9 1243.5 L1144.4 1244.1 L1138.8 1244.7 L1133.2 1245.2 L1127.6 1245.7 L1122.0 1246.1 L1116.3 1246.5 L1110.6 1246.9 L1104.9 1247.2 L1099.2 1247.4 L1093.5 1247.7 L1087.7 1247.9 L1082.0 1248.0 L1076.2 1248.1 L1070.5 1248.2 L1064.7 1248.2 L1058.9 1248.2 L1053.2 1248.1 L1047.4 1248.0 L1041.7 1247.9 L1035.9 1247.7 L1030.2 1247.4 L1024.5 1247.2 L1018.8 1246.9 L1013.1 1246.5 L1007.4 1246.1 L1001.8 1245.7 L996.2 1245.2 L990.6 1244.7 L985.0 1244.1 L979.5 1243.5 L974.0 1242.8 L968.5 1242.2 L963.1 1241.4 L957.7 1240.7 L952.3 1239.9 L947.0 1239.0 L941.7 1238.1 L936.5 1237.2 L931.3 1236.3 L926.2 1235.3 L921.1 1234.2 L916.1 1233.2 L911.1 1232.0 L906.2 1230.9 L901.3 1229.7 L896.5 1228.5 L891.8 1227.3 L887.1 1226.0 L882.5 1224.7 L878.0 1223.3 L873.5 1221.9 L869.1 1220.5 L864.8 1219.1 L860.6 1217.6 L856.4 1216.1 L856.4 1216.1 L860.6 1216.9 L864.8 1217.4 L869.1 1217.7 L873.5 1218.0 L878.0 1218.1 L882.5 1218.1 L887.1 1218.0 L891.8 1217.8 L896.5 1217.5 L901.3 1217.2 L906.2 1216.8 L911.1 1216.4 L916.1 1215.9 L921.1 1215.3 L926.2 1214.7 L931.3 1214.1 L936.5 1213.5 L941.7 1212.9 L947.0 1212.2 L952.3 1211.6 L957.7 1211.0 L963.1 1210.3 L968.5 1209.7 L974.0 1209.2 L979.5 1208.6 L985.0 1208.1 L990.6 1207.6 L996.2 1207.2 L1001.8 1206.9 L1007.4 1206.6 L1013.1 1206.3 L1018.8 1206.1 L1024.5 1206.0 L1030.2 1205.9 L1035.9 1205.9 L1041.7 1206.0 L1047.4 1206.1 L1053.2 1206.1 L1058.9 1206.2 L1064.7 1206.2 L1070.5 1206.2 L1076.2 1206.1 L1082.0 1206.1 L1087.7 1206.0 L1093.5 1205.9 L1099.2 1205.9 L1104.9 1206.0 L1110.6 1206.1 L1116.3 1206.3 L1122.0 1206.6 L1127.6 1206.9 L1133.2 1207.2 L1138.8 1207.6 L1144.4 1208.1 L1149.9 1208.6 L1155.4 1209.2 L1160.9 1209.7 L1166.3 1210.3 L1171.7 1211.0 L1177.1 1211.6 L1182.4 1212.2 L1187.7 1212.9 L1192.9 1213.5 L1198.1 1214.1 L1203.2 1214.7 L1208.3 1215.3 L1213.3 1215.9 L1218.3 1216.4 L1223.2 1216.8 L1228.1 1217.2 L1232.9 1217.5 L1237.6 1217.8 L1242.3 1218.0 L1246.9 1218.1 L1251.4 1218.1 L1255.9 1218.0 L1260.3 1217.7 L1264.6 1217.4 L1268.8 1216.9 L1273.0 1216.1 Z" fill="#14e414"/>
<ellipse cx="1068.0" cy="1212.0" rx="104.0" ry="20.0" fill="#00e8d8"/><ellipse cx="1068.0" cy="1213.0" rx="99.0" ry="18.0" fill="#14e414"/><ellipse cx="1068.0" cy="1212.0" rx="93.0" ry="15.0" fill="#8cf000"/><ellipse cx="1068.0" cy="1211.0" rx="88.0" ry="12.5" fill="#d8f000"/>
<ellipse cx="998" cy="1204.5" rx="11" ry="3.2" fill="#f08a00"/>
<ellipse cx="998" cy="1204.5" rx="8" ry="2" fill="#c81800"/>
<ellipse cx="1050" cy="1204.5" rx="18" ry="3.2" fill="#f08a00"/>
<ellipse cx="1050" cy="1204.5" rx="15" ry="2" fill="#c81800"/>
<ellipse cx="1083" cy="1204.5" rx="13" ry="3.2" fill="#f08a00"/>
<ellipse cx="1083" cy="1204.5" rx="10" ry="2" fill="#c81800"/>
<ellipse cx="1139" cy="1204.5" rx="10" ry="3.2" fill="#f08a00"/>
<ellipse cx="1139" cy="1204.5" rx="7" ry="2" fill="#c81800"/>
</g>
<path d="M1363.3 1140.2 L1362.5 1144.5 L1361.3 1148.8 L1359.7 1153.1 L1357.6 1157.3 L1355.1 1161.5 L1352.2 1165.7 L1348.9 1169.8 L1345.1 1173.9 L1341.0 1178.0 L1336.5 1181.9 L1331.5 1185.8 L1326.2 1189.6 L1320.5 1193.4 L1314.4 1197.0 L1308.0 1200.6 L1301.2 1204.1 L1294.1 1207.4 L1286.6 1210.7 L1278.9 1213.8 L1270.8 1216.9 L1262.4 1219.8 L1253.7 1222.6 L1244.8 1225.3 L1235.6 1227.8 L1226.1 1230.2 L1216.4 1232.5 L1206.5 1234.6 L1196.4 1236.6 L1186.1 1238.4 L1175.7 1240.1 L1165.0 1241.6 L1154.2 1243.0 L1143.3 1244.2 L1132.3 1245.3 L1121.2 1246.2 L1110.0 1246.9 L1098.7 1247.5 L1087.4 1247.9 L1076.1 1248.1 L1064.7 1248.2 L1053.3 1248.1 L1042.0 1247.9 L1030.7 1247.5 L1019.4 1246.9 L1008.2 1246.2 L997.1 1245.3 L986.1 1244.2 L975.2 1243.0 L964.4 1241.6 L953.7 1240.1 L943.3 1238.4 L933.0 1236.6 L922.9 1234.6 L913.0 1232.5 L903.3 1230.2 L893.8 1227.8 L884.6 1225.3 L875.7 1222.6 L867.0 1219.8 L858.6 1216.9 L850.5 1213.8 L842.8 1210.7 L835.3 1207.4 L828.2 1204.1 L821.4 1200.6 L815.0 1197.0 L808.9 1193.4 L803.2 1189.6 L797.9 1185.8 L792.9 1181.9 L788.4 1178.0 L784.3 1173.9 L780.5 1169.8 L777.2 1165.7 L774.3 1161.5 L771.8 1157.3 L769.7 1153.1 L768.1 1148.8 L766.9 1144.5 L766.1 1140.2 L766.1 1140.0 L766.9 1144.1 L768.1 1148.3 L769.7 1152.4 L771.8 1156.5 L774.3 1160.6 L777.2 1164.6 L780.5 1168.6 L784.3 1172.5 L788.4 1176.4 L792.9 1180.3 L797.9 1184.0 L803.2 1187.7 L808.9 1191.3 L815.0 1194.8 L821.4 1198.3 L828.2 1201.6 L835.3 1204.9 L842.8 1208.0 L850.5 1211.1 L858.6 1214.0 L867.0 1216.8 L875.7 1219.5 L884.6 1222.1 L893.8 1224.5 L903.3 1226.8 L913.0 1229.0 L922.9 1231.1 L933.0 1233.0 L943.3 1234.7 L953.7 1236.4 L964.4 1237.8 L975.2 1239.2 L986.1 1240.3 L997.1 1241.4 L1008.2 1242.2 L1019.4 1242.9 L1030.7 1243.5 L1042.0 1243.9 L1053.3 1244.1 L1064.7 1244.2 L1076.1 1244.1 L1087.4 1243.9 L1098.7 1243.5 L1110.0 1242.9 L1121.2 1242.2 L1132.3 1241.4 L1143.3 1240.3 L1154.2 1239.2 L1165.0 1237.8 L1175.7 1236.4 L1186.1 1234.7 L1196.4 1233.0 L1206.5 1231.1 L1216.4 1229.0 L1226.1 1226.8 L1235.6 1224.5 L1244.8 1222.1 L1253.7 1219.5 L1262.4 1216.8 L1270.8 1214.0 L1278.9 1211.1 L1286.6 1208.0 L1294.1 1204.9 L1301.2 1201.6 L1308.0 1198.3 L1314.4 1194.8 L1320.5 1191.3 L1326.2 1187.7 L1331.5 1184.0 L1336.5 1180.3 L1341.0 1176.4 L1345.1 1172.5 L1348.9 1168.6 L1352.2 1164.6 L1355.1 1160.6 L1357.6 1156.5 L1359.7 1152.4 L1361.3 1148.3 L1362.5 1144.1 L1363.3 1140.0 Z" fill="#0a1fa8"/>
<line x1="1909" y1="366" x2="2010" y2="314" stroke="#000" stroke-width="9"/>
<path d="M2049.4 293.6 L1994 306 L2007 329.7 Z" fill="#000"/>
<line x1="1209" y1="1279" x2="1345" y2="1382" stroke="#000" stroke-width="9"/>
<path d="M1382 1410.7 L1344.2 1364.7 L1330.2 1387.4 Z" fill="#000"/>
<rect x="237" y="37" width="10" height="1630" fill="#000"/>
<rect x="237" y="1655" width="2023" height="10" fill="#000"/>
<rect x="247" y="1520.2" width="11" height="10" fill="#000"/>
<rect x="247" y="1385.3" width="27" height="10" fill="#000"/>
<rect x="247" y="1250.5" width="11" height="10" fill="#000"/>
<rect x="247" y="1115.7" width="27" height="10" fill="#000"/>
<rect x="247" y="980.9" width="11" height="10" fill="#000"/>
<rect x="247" y="846.0" width="27" height="10" fill="#000"/>
<rect x="247" y="711.2" width="11" height="10" fill="#000"/>
<rect x="247" y="576.4" width="27" height="10" fill="#000"/>
<rect x="247" y="441.5" width="11" height="10" fill="#000"/>
<rect x="247" y="306.7" width="27" height="10" fill="#000"/>
<rect x="247" y="171.9" width="11" height="10" fill="#000"/>
<rect x="247" y="37.0" width="27" height="10" fill="#000"/>
<rect x="572.0" y="1628" width="11" height="27" fill="#000"/>
<rect x="907.5" y="1628" width="11" height="27" fill="#000"/>
<rect x="1243.0" y="1628" width="11" height="27" fill="#000"/>
<rect x="1578.5" y="1628" width="11" height="27" fill="#000"/>
<rect x="1914.0" y="1628" width="11" height="27" fill="#000"/>
<rect x="2247.0" y="1628" width="11" height="27" fill="#000"/>
<text x="209" y="1681.5" text-anchor="end" class="tl">0.0</text>
<text x="209" y="1411.8" text-anchor="end" class="tl">0.2</text>
<text x="209" y="1142.2" text-anchor="end" class="tl">0.4</text>
<text x="209" y="872.5" text-anchor="end" class="tl">0.6</text>
<text x="209" y="602.9" text-anchor="end" class="tl">0.8</text>
<text x="209" y="333.2" text-anchor="end" class="tl">1.0</text>
<text x="209" y="63.5" text-anchor="end" class="tl">1.2</text>
<text x="242.0" y="1748" text-anchor="middle" class="tl">0</text>
<text x="577.5" y="1748" text-anchor="middle" class="tl">200</text>
<text x="913.0" y="1748" text-anchor="middle" class="tl">400</text>
<text x="1248.5" y="1748" text-anchor="middle" class="tl">600</text>
<text x="1584.0" y="1748" text-anchor="middle" class="tl">800</text>
<text x="1919.5" y="1748" text-anchor="middle" class="tl">1000</text>
<text x="2254.5" y="1748" text-anchor="middle" class="tl">1200</text>
<clipPath id="pc"><rect x="242" y="30" width="2030" height="1632"/></clipPath><path clip-path="url(#pc)" fill="#ff0000" d="M239.4 1647.2H244.4L255.3 1665.9V1670.8H228.7V1665.9ZM242.4 1646.7H247.4L258.4 1665.4V1670.4H231.7V1665.4ZM245.4 1646.2H250.4L261.4 1665.0V1669.9H234.7V1665.0ZM248.4 1645.8H253.4L264.4 1664.5V1669.5H237.7V1664.5ZM251.4 1645.3H256.4L267.4 1664.1V1669.0H240.7V1664.1ZM254.4 1644.9H259.4L270.4 1663.6V1668.6H243.7V1663.6ZM257.4 1644.5H262.4L273.4 1663.2V1668.2H246.7V1663.2ZM260.4 1644.3H265.4L276.4 1663.0V1668.0H249.7V1663.0ZM263.4 1644.0H268.4L279.4 1662.8V1667.7H252.7V1662.8ZM266.4 1643.8H271.4L282.4 1662.6V1667.5H255.7V1662.6ZM269.4 1643.6H274.4L285.4 1662.3V1667.3H258.6V1662.3ZM272.4 1643.4H277.4L288.4 1662.1V1667.1H261.6V1662.1ZM275.4 1643.1H280.4L291.4 1661.9V1666.8H264.6V1661.9ZM278.4 1642.9H283.4L294.4 1661.7V1666.6H267.6V1661.7ZM281.4 1642.7H286.4L297.4 1661.4V1666.4H270.6V1661.4ZM284.4 1642.5H289.4L300.4 1661.2V1666.2H273.6V1661.2ZM287.4 1642.2H292.4L303.4 1661.0V1665.9H276.6V1661.0ZM290.4 1642.0H295.4L306.4 1660.8V1665.7H279.6V1660.8ZM293.4 1641.8H298.4L309.4 1660.5V1665.5H282.6V1660.5ZM296.4 1641.5H301.4L312.4 1660.2V1665.2H285.6V1660.2ZM299.4 1641.0H304.4L315.4 1659.7V1664.7H288.6V1659.7ZM302.4 1640.5H307.4L318.4 1659.2V1664.2H291.6V1659.2ZM305.4 1640.0H310.4L321.4 1658.7V1663.7H294.6V1658.7ZM308.4 1639.5H313.4L324.4 1658.2V1663.2H297.6V1658.2ZM311.4 1639.0H316.4L327.4 1657.7V1662.7H300.6V1657.7ZM314.4 1638.5H319.4L330.4 1657.2V1662.2H303.6V1657.2ZM317.4 1638.0H322.4L333.4 1656.7V1661.7H306.6V1656.7ZM320.4 1637.2H325.4L336.4 1655.9V1660.9H309.6V1655.9ZM323.4 1636.1H328.4L339.4 1654.8V1659.8H312.6V1654.8ZM326.4 1634.9H331.4L342.4 1653.7V1658.6H315.6V1653.7ZM329.4 1633.8H334.4L345.4 1652.6V1657.5H318.6V1652.6ZM332.4 1632.7H337.4L348.4 1651.4V1656.4H321.6V1651.4ZM335.4 1631.7H340.4L351.4 1650.4V1655.4H324.6V1650.4ZM338.4 1630.8H343.4L354.4 1649.5V1654.5H327.6V1649.5ZM341.4 1629.9H346.4L357.4 1648.6V1653.6H330.6V1648.6ZM344.4 1629.0H349.4L360.4 1647.7V1652.7H333.6V1647.7ZM347.4 1628.2H352.4L363.4 1646.9V1651.9H336.6V1646.9ZM350.4 1627.6H355.4L366.4 1646.4V1651.3H339.6V1646.4ZM353.4 1627.0H358.4L369.4 1645.8V1650.7H342.6V1645.8ZM356.4 1626.5H361.4L372.4 1645.2V1650.2H345.6V1645.2ZM359.4 1625.9H364.4L375.4 1644.6V1649.6H348.6V1644.6ZM362.4 1625.3H367.4L378.4 1644.0V1649.0H351.6V1644.0ZM365.4 1624.7H370.4L381.4 1643.5V1648.4H354.6V1643.5ZM368.4 1624.1H373.4L384.4 1642.9V1647.8H357.6V1642.9ZM371.4 1623.5H376.4L387.4 1642.3V1647.2H360.6V1642.3ZM374.4 1623.0H379.4L390.4 1641.8V1646.7H363.6V1641.8ZM377.4 1622.6H382.4L393.4 1641.4V1646.3H366.6V1641.4ZM380.4 1622.3H385.4L396.4 1641.0V1646.0H369.6V1641.0ZM383.4 1621.9H388.4L399.4 1640.6V1645.6H372.6V1640.6ZM386.4 1621.5H391.4L402.4 1640.3V1645.2H375.6V1640.3ZM389.4 1621.1H394.4L405.4 1639.9V1644.8H378.6V1639.9ZM392.4 1620.8H397.4L408.4 1639.5V1644.4H381.6V1639.5ZM395.4 1620.5H400.4L411.4 1639.3V1644.2H384.6V1639.3ZM398.4 1620.3H403.4L414.4 1639.1V1644.0H387.6V1639.1ZM401.4 1620.2H406.4L417.4 1638.9V1643.8H390.6V1638.9ZM404.4 1620.0H409.4L420.4 1638.7V1643.6H393.6V1638.7ZM407.4 1619.8H412.4L423.4 1638.5V1643.4H396.6V1638.5ZM410.4 1619.5H415.4L426.4 1638.3V1643.2H399.6V1638.3ZM413.4 1619.4H418.4L429.4 1638.1V1643.0H402.6V1638.1ZM416.4 1619.2H421.4L432.4 1637.9V1642.8H405.6V1637.9ZM419.4 1619.0H424.4L435.4 1637.7V1642.6H408.6V1637.7ZM422.4 1618.8H427.4L438.4 1637.5V1642.4H411.6V1637.5ZM425.4 1618.6H430.4L441.4 1637.3V1642.2H414.6V1637.3ZM428.4 1618.4H433.4L444.4 1637.1V1642.0H417.6V1637.1ZM431.4 1618.2H436.4L447.4 1636.9V1641.8H420.6V1636.9ZM434.4 1617.6H439.4L450.4 1636.3V1641.3H423.6V1636.3ZM437.4 1617.0H442.4L453.4 1635.8V1640.7H426.6V1635.8ZM440.4 1616.5H445.4L456.4 1635.2V1640.2H429.6V1635.2ZM443.4 1615.9H448.4L459.4 1634.7V1639.6H432.6V1634.7ZM446.4 1615.4H451.4L462.4 1634.1V1639.1H435.6V1634.1ZM449.4 1614.8H454.4L465.4 1633.6V1638.5H438.6V1633.6ZM452.4 1614.3H457.4L468.4 1633.0V1638.0H441.6V1633.0ZM455.4 1613.7H460.4L471.4 1632.5V1637.4H444.6V1632.5ZM458.4 1613.2H463.4L474.4 1631.9V1636.9H447.6V1631.9ZM461.4 1612.6H466.4L477.4 1631.4V1636.3H450.6V1631.4ZM464.4 1612.1H469.4L480.4 1630.8V1635.8H453.6V1630.8ZM467.4 1611.5H472.4L483.4 1630.3V1635.2H456.6V1630.3ZM470.4 1611.0H475.4L486.4 1629.7V1634.6H459.6V1629.7ZM473.4 1610.5H478.4L489.4 1629.3V1634.2H462.6V1629.3ZM476.4 1610.1H481.4L492.4 1628.8V1633.8H465.6V1628.8ZM479.4 1609.6H484.4L495.4 1628.4V1633.3H468.6V1628.4ZM482.4 1609.2H487.4L498.4 1627.9V1632.9H471.6V1627.9ZM485.4 1608.7H490.4L501.4 1627.5V1632.4H474.6V1627.5ZM488.4 1608.3H493.4L504.4 1627.0V1632.0H477.6V1627.0ZM491.4 1607.8H496.4L507.4 1626.6V1631.5H480.6V1626.6ZM494.4 1607.4H499.4L510.4 1626.1V1631.1H483.6V1626.1ZM497.4 1606.9H502.4L513.4 1625.7V1630.6H486.6V1625.7ZM500.4 1606.5H505.4L516.4 1625.2V1630.2H489.6V1625.2ZM503.4 1606.0H508.4L519.4 1624.8V1629.7H492.6V1624.8ZM506.4 1605.6H511.4L522.4 1624.3V1629.3H495.6V1624.3ZM509.4 1605.2H514.4L525.4 1623.9V1628.8H498.6V1623.9ZM512.4 1604.7H517.4L528.4 1623.5V1628.4H501.6V1623.5ZM515.4 1604.3H520.4L531.4 1623.1V1628.0H504.6V1623.1ZM518.4 1603.9H523.4L534.4 1622.7V1627.6H507.6V1622.7ZM521.4 1603.5H526.4L537.4 1622.3V1627.2H510.6V1622.3ZM524.4 1603.1H529.4L540.4 1621.8V1626.8H513.6V1621.8ZM527.4 1602.7H532.4L543.4 1621.4V1626.4H516.6V1621.4ZM530.4 1602.3H535.4L546.4 1621.0V1626.0H519.6V1621.0ZM533.4 1601.9H538.4L549.4 1620.6V1625.6H522.6V1620.6ZM536.4 1601.5H541.4L552.4 1620.2V1625.2H525.6V1620.2ZM539.4 1601.0H544.4L555.4 1619.8V1624.7H528.6V1619.8ZM542.4 1600.6H547.4L558.4 1619.4V1624.3H531.6V1619.4ZM545.4 1600.2H550.4L561.4 1619.0V1623.9H534.6V1619.0ZM548.4 1599.8H553.4L564.4 1618.6V1623.5H537.6V1618.6ZM551.4 1599.4H556.4L567.4 1618.2V1623.1H540.6V1618.2ZM554.4 1599.0H559.4L570.4 1617.7V1622.7H543.6V1617.7ZM557.4 1598.6H562.4L573.4 1617.3V1622.3H546.6V1617.3ZM560.4 1598.2H565.4L576.4 1616.9V1621.9H549.6V1616.9ZM563.4 1597.8H568.4L579.4 1616.5V1621.5H552.6V1616.5ZM566.4 1597.4H571.4L582.4 1616.1V1621.1H555.6V1616.1ZM569.4 1597.0H574.4L585.4 1615.7V1620.7H558.6V1615.7ZM572.4 1596.6H577.4L588.4 1615.3V1620.3H561.6V1615.3ZM575.4 1596.1H580.4L591.4 1614.9V1619.8H564.6V1614.9ZM578.4 1595.7H583.4L594.4 1614.5V1619.4H567.6V1614.5ZM581.4 1595.3H586.4L597.4 1614.1V1619.0H570.6V1614.1ZM584.4 1594.9H589.4L600.4 1613.7V1618.6H573.6V1613.7ZM587.4 1594.5H592.4L603.4 1613.3V1618.2H576.6V1613.3ZM590.4 1594.1H595.4L606.4 1612.8V1617.8H579.6V1612.8ZM593.4 1593.6H598.4L609.4 1612.4V1617.3H582.6V1612.4ZM596.4 1593.2H601.4L612.4 1611.9V1616.9H585.6V1611.9ZM599.4 1592.7H604.4L615.4 1611.5V1616.4H588.6V1611.5ZM602.4 1592.3H607.4L618.4 1611.0V1616.0H591.6V1611.0ZM605.4 1591.9H610.4L621.4 1610.6V1615.6H594.6V1610.6ZM608.4 1591.4H613.4L624.4 1610.2V1615.1H597.6V1610.2ZM611.4 1591.0H616.4L627.4 1609.7V1614.7H600.6V1609.7ZM614.4 1590.5H619.4L630.4 1609.3V1614.2H603.6V1609.3ZM617.4 1590.1H622.4L633.4 1608.8V1613.8H606.6V1608.8ZM620.4 1589.7H625.4L636.4 1608.4V1613.3H609.6V1608.4ZM623.4 1589.2H628.4L639.4 1608.0V1612.9H612.6V1608.0ZM626.4 1588.8H631.4L642.4 1607.5V1612.5H615.6V1607.5ZM629.4 1588.3H634.4L645.4 1607.1V1612.0H618.6V1607.1ZM632.4 1587.9H637.4L648.4 1606.6V1611.6H621.6V1606.6ZM635.4 1587.4H640.4L651.4 1606.2V1611.1H624.6V1606.2ZM638.4 1587.0H643.4L654.4 1605.7V1610.7H627.6V1605.7ZM641.4 1586.4H646.4L657.4 1605.1V1610.1H630.6V1605.1ZM644.4 1585.8H649.4L660.4 1604.5V1609.5H633.6V1604.5ZM647.4 1585.2H652.4L663.4 1603.9V1608.9H636.6V1603.9ZM650.4 1584.6H655.4L666.4 1603.3V1608.3H639.6V1603.3ZM653.4 1584.0H658.4L669.4 1602.7V1607.7H642.6V1602.7ZM656.4 1583.4H661.4L672.4 1602.1V1607.1H645.6V1602.1ZM659.4 1582.8H664.4L675.4 1601.6V1606.5H648.6V1601.6ZM662.4 1582.2H667.4L678.4 1601.0V1605.9H651.6V1601.0ZM665.4 1581.6H670.4L681.4 1600.4V1605.3H654.6V1600.4ZM668.4 1581.0H673.4L684.4 1599.8V1604.7H657.6V1599.8ZM671.4 1580.4H676.4L687.4 1599.2V1604.1H660.6V1599.2ZM674.4 1579.8H679.4L690.4 1598.6V1603.5H663.6V1598.6ZM677.4 1579.3H682.4L693.4 1598.0V1603.0H666.6V1598.0ZM680.4 1578.8H685.4L696.4 1597.5V1602.5H669.6V1597.5ZM683.4 1578.2H688.4L699.4 1597.0V1601.9H672.6V1597.0ZM686.4 1577.7H691.4L702.4 1596.5V1601.4H675.6V1596.5ZM689.4 1577.2H694.4L705.4 1595.9V1600.9H678.6V1595.9ZM692.4 1576.7H697.4L708.4 1595.4V1600.4H681.6V1595.4ZM695.4 1576.1H700.4L711.4 1594.9V1599.8H684.6V1594.9ZM698.4 1575.6H703.4L714.4 1594.4V1599.3H687.6V1594.4ZM701.4 1575.1H706.4L717.4 1593.8V1598.8H690.6V1593.8ZM704.4 1574.6H709.4L720.4 1593.3V1598.3H693.6V1593.3ZM707.4 1574.0H712.4L723.4 1592.8V1597.7H696.6V1592.8ZM710.4 1573.5H715.4L726.4 1592.3V1597.2H699.6V1592.3ZM713.4 1573.0H718.4L729.4 1591.7V1596.7H702.6V1591.7ZM716.4 1572.6H721.4L732.4 1591.3V1596.3H705.6V1591.3ZM719.4 1572.3H724.4L735.4 1591.1V1596.0H708.6V1591.1ZM722.4 1572.1H727.4L738.4 1590.9V1595.8H711.6V1590.9ZM725.4 1571.9H730.4L741.4 1590.6V1595.6H714.6V1590.6ZM728.4 1571.7H733.4L744.4 1590.4V1595.4H717.6V1590.4ZM731.4 1571.4H736.4L747.4 1590.2V1595.1H720.6V1590.2ZM734.4 1571.2H739.4L750.4 1590.0V1594.9H723.6V1590.0ZM737.4 1571.0H742.4L753.4 1589.7V1594.7H726.6V1589.7ZM740.4 1570.7H745.4L756.4 1589.5V1594.4H729.6V1589.5ZM743.4 1570.5H748.4L759.4 1589.3V1594.2H732.6V1589.3ZM746.4 1570.3H751.4L762.4 1589.0V1594.0H735.6V1589.0ZM749.4 1570.1H754.4L765.4 1588.8V1593.8H738.6V1588.8ZM752.4 1569.8H757.4L768.4 1588.6V1593.5H741.6V1588.6ZM755.4 1569.3H760.4L771.4 1588.1V1593.0H744.6V1588.1ZM758.4 1568.8H763.4L774.4 1587.5V1592.4H747.6V1587.5ZM761.4 1568.2H766.4L777.4 1586.9V1591.8H750.6V1586.9ZM764.4 1567.5H769.4L780.4 1586.3V1591.2H753.6V1586.3ZM767.4 1567.0H772.4L783.4 1585.7V1590.6H756.6V1585.7ZM770.4 1566.3H775.4L786.4 1585.1V1590.0H759.6V1585.1ZM773.4 1565.8H778.4L789.4 1584.5V1589.4H762.6V1584.5ZM776.4 1565.2H781.4L792.4 1583.9V1588.8H765.6V1583.9ZM779.4 1564.5H784.4L795.4 1583.3V1588.2H768.6V1583.3ZM782.4 1564.0H787.4L798.4 1582.7V1587.6H771.6V1582.7ZM785.4 1563.4H790.4L801.4 1582.1V1587.0H774.6V1582.1ZM788.4 1562.8H793.4L804.4 1581.5V1586.4H777.6V1581.5ZM791.4 1562.2H796.4L807.4 1580.9V1585.8H780.6V1580.9ZM794.4 1561.7H799.4L810.4 1580.4V1585.4H783.6V1580.4ZM797.4 1561.2H802.4L813.4 1580.0V1584.9H786.6V1580.0ZM800.4 1560.8H805.4L816.4 1579.5V1584.5H789.6V1579.5ZM803.4 1560.3H808.4L819.4 1579.1V1584.0H792.6V1579.1ZM806.4 1559.9H811.4L822.4 1578.6V1583.6H795.6V1578.6ZM809.4 1559.4H814.4L825.4 1578.2V1583.1H798.6V1578.2ZM812.4 1559.0H817.4L828.4 1577.7V1582.7H801.6V1577.7ZM815.4 1558.5H820.4L831.4 1577.3V1582.2H804.6V1577.3ZM818.4 1558.1H823.4L834.4 1576.8V1581.8H807.6V1576.8ZM821.4 1557.6H826.4L837.4 1576.4V1581.3H810.6V1576.4ZM824.4 1557.2H829.4L840.4 1575.9V1580.9H813.6V1575.9ZM827.4 1556.7H832.4L843.4 1575.5V1580.4H816.6V1575.5ZM830.4 1556.3H835.4L846.4 1575.0V1580.0H819.6V1575.0ZM833.4 1555.7H838.4L849.4 1574.4V1579.4H822.6V1574.4ZM836.4 1554.9H841.4L852.4 1573.7V1578.6H825.6V1573.7ZM839.4 1554.2H844.4L855.4 1572.9V1577.9H828.6V1572.9ZM842.4 1553.4H847.4L858.4 1572.2V1577.1H831.6V1572.2ZM845.4 1552.7H850.4L861.4 1571.4V1576.4H834.6V1571.4ZM848.4 1551.9H853.4L864.4 1570.7V1575.6H837.6V1570.7ZM851.4 1551.2H856.4L867.4 1569.9V1574.9H840.6V1569.9ZM854.4 1550.4H859.4L870.4 1569.2V1574.1H843.6V1569.2ZM857.4 1549.7H862.4L873.4 1568.4V1573.4H846.6V1568.4ZM860.4 1548.9H865.4L876.4 1567.7V1572.6H849.6V1567.7ZM863.4 1548.2H868.4L879.4 1566.9V1571.9H852.6V1566.9ZM866.4 1547.4H871.4L882.4 1566.2V1571.1H855.6V1566.2ZM869.4 1546.7H874.4L885.4 1565.4V1570.4H858.6V1565.4ZM872.4 1546.2H877.4L888.4 1564.9V1569.9H861.6V1564.9ZM875.4 1545.7H880.4L891.4 1564.5V1569.4H864.6V1564.5ZM878.4 1545.3H883.4L894.4 1564.1V1569.0H867.6V1564.1ZM881.4 1544.9H886.4L897.4 1563.6V1568.6H870.6V1563.6ZM884.4 1544.5H889.4L900.4 1563.2V1568.2H873.6V1563.2ZM887.4 1544.1H892.4L903.4 1562.8V1567.8H876.6V1562.8ZM890.4 1543.6H895.4L906.4 1562.4V1567.3H879.6V1562.4ZM893.4 1543.2H898.4L909.4 1562.0V1566.9H882.6V1562.0ZM896.4 1542.8H901.4L912.4 1561.5V1566.5H885.6V1561.5ZM899.4 1542.4H904.4L915.4 1561.1V1566.1H888.6V1561.1ZM902.4 1541.9H907.4L918.4 1560.7V1565.6H891.6V1560.7ZM905.4 1541.5H910.4L921.4 1560.3V1565.2H894.6V1560.3ZM908.4 1541.1H913.4L924.4 1559.8V1564.8H897.6V1559.8ZM911.4 1540.6H916.4L927.4 1559.3V1564.3H900.6V1559.3ZM914.4 1540.0H919.4L930.4 1558.8V1563.7H903.6V1558.8ZM917.4 1539.5H922.4L933.4 1558.2V1563.2H906.6V1558.2ZM920.4 1538.9H925.4L936.4 1557.6V1562.6H909.6V1557.6ZM923.4 1538.3H928.4L939.4 1557.1V1562.0H912.6V1557.1ZM926.4 1537.8H931.4L942.4 1556.5V1561.5H915.6V1556.5ZM929.4 1537.2H934.4L945.4 1556.0V1560.9H918.6V1556.0ZM932.4 1536.7H937.4L948.4 1555.4V1560.4H921.6V1555.4ZM935.4 1536.1H940.4L951.4 1554.8V1559.8H924.6V1554.8ZM938.4 1535.5H943.4L954.4 1554.3V1559.2H927.6V1554.3ZM941.4 1535.0H946.4L957.4 1553.7V1558.7H930.6V1553.7ZM944.4 1534.4H949.4L960.4 1553.2V1558.1H933.6V1553.2ZM947.4 1533.9H952.4L963.4 1552.6V1557.5H936.6V1552.6ZM950.4 1533.3H955.4L966.4 1552.0V1557.0H939.6V1552.0ZM953.4 1532.7H958.4L969.4 1551.4V1556.3H942.6V1551.4ZM956.4 1532.1H961.4L972.4 1550.8V1555.8H945.6V1550.8ZM959.4 1531.5H964.4L975.4 1550.2V1555.1H948.6V1550.2ZM962.4 1530.9H967.4L978.4 1549.6V1554.5H951.6V1549.6ZM965.4 1530.3H970.4L981.4 1549.0V1554.0H954.6V1549.0ZM968.4 1529.7H973.4L984.4 1548.4V1553.3H957.6V1548.4ZM971.4 1529.1H976.4L987.4 1547.8V1552.8H960.6V1547.8ZM974.4 1528.5H979.4L990.4 1547.2V1552.2H963.6V1547.2ZM977.4 1527.9H982.4L993.4 1546.6V1551.5H966.6V1546.6ZM980.4 1527.3H985.4L996.4 1546.0V1551.0H969.6V1546.0ZM983.4 1526.7H988.4L999.4 1545.4V1550.3H972.6V1545.4ZM986.4 1526.1H991.4L1002.4 1544.8V1549.8H975.6V1544.8ZM989.4 1525.4H994.4L1005.4 1544.2V1549.1H978.6V1544.2ZM992.4 1524.8H997.4L1008.4 1543.5V1548.5H981.6V1543.5ZM995.4 1524.1H1000.4L1011.4 1542.9V1547.8H984.6V1542.9ZM998.4 1523.5H1003.4L1014.4 1542.2V1547.2H987.6V1542.2ZM1001.4 1522.8H1006.4L1017.4 1541.6V1546.5H990.6V1541.6ZM1004.4 1522.2H1009.4L1020.4 1541.0V1545.9H993.6V1541.0ZM1007.4 1521.6H1012.4L1023.4 1540.3V1545.3H996.6V1540.3ZM1010.4 1520.9H1015.4L1026.3 1539.7V1544.6H999.6V1539.7ZM1013.4 1520.3H1018.4L1029.3 1539.0V1544.0H1002.6V1539.0ZM1016.4 1519.6H1021.4L1032.3 1538.4V1543.3H1005.6V1538.4ZM1019.4 1519.0H1024.4L1035.3 1537.7V1542.7H1008.6V1537.7ZM1022.4 1518.4H1027.4L1038.3 1537.1V1542.1H1011.6V1537.1ZM1025.4 1517.7H1030.4L1041.3 1536.5V1541.4H1014.6V1536.5ZM1028.4 1517.1H1033.4L1044.3 1535.8V1540.8H1017.6V1535.8ZM1031.4 1516.4H1036.4L1047.3 1535.2V1540.1H1020.6V1535.2ZM1034.4 1515.8H1039.4L1050.3 1534.5V1539.5H1023.6V1534.5ZM1037.4 1515.2H1042.4L1053.3 1533.9V1538.8H1026.7V1533.9ZM1040.4 1514.6H1045.4L1056.3 1533.3V1538.3H1029.7V1533.3ZM1043.4 1514.0H1048.4L1059.3 1532.8V1537.7H1032.7V1532.8ZM1046.4 1513.5H1051.4L1062.3 1532.2V1537.2H1035.7V1532.2ZM1049.4 1512.9H1054.4L1065.3 1531.7V1536.6H1038.7V1531.7ZM1052.4 1512.3H1057.4L1068.3 1531.1V1536.0H1041.7V1531.1ZM1055.4 1511.8H1060.4L1071.3 1530.5V1535.5H1044.7V1530.5ZM1058.4 1511.2H1063.4L1074.3 1530.0V1534.9H1047.7V1530.0ZM1061.4 1510.7H1066.4L1077.3 1529.4V1534.4H1050.7V1529.4ZM1064.4 1510.1H1069.4L1080.3 1528.8V1533.8H1053.7V1528.8ZM1067.4 1509.5H1072.4L1083.3 1528.3V1533.2H1056.7V1528.3ZM1070.4 1509.0H1075.4L1086.3 1527.7V1532.7H1059.7V1527.7ZM1073.4 1508.4H1078.4L1089.3 1527.2V1532.1H1062.7V1527.2ZM1076.4 1507.9H1081.4L1092.3 1526.6V1531.5H1065.7V1526.6ZM1079.4 1507.3H1084.4L1095.3 1526.0V1531.0H1068.7V1526.0ZM1082.4 1506.7H1087.4L1098.3 1525.4V1530.4H1071.7V1525.4ZM1085.4 1506.1H1090.4L1101.3 1524.8V1529.8H1074.7V1524.8ZM1088.4 1505.5H1093.4L1104.3 1524.2V1529.2H1077.7V1524.2ZM1091.4 1504.9H1096.4L1107.3 1523.6V1528.6H1080.7V1523.6ZM1094.4 1504.3H1099.4L1110.3 1523.0V1528.0H1083.7V1523.0ZM1097.4 1503.7H1102.4L1113.3 1522.5V1527.4H1086.7V1522.5ZM1100.4 1503.1H1105.4L1116.3 1521.9V1526.8H1089.7V1521.9ZM1103.4 1502.5H1108.4L1119.3 1521.3V1526.2H1092.7V1521.3ZM1106.4 1501.9H1111.4L1122.3 1520.7V1525.6H1095.7V1520.7ZM1109.4 1501.3H1114.4L1125.3 1520.1V1525.0H1098.7V1520.1ZM1112.4 1500.7H1117.4L1128.3 1519.5V1524.4H1101.7V1519.5ZM1115.4 1500.2H1120.4L1131.3 1518.9V1523.8H1104.7V1518.9ZM1118.4 1499.3H1123.4L1134.3 1518.1V1523.0H1107.7V1518.1ZM1121.4 1498.5H1126.4L1137.3 1517.2V1522.2H1110.7V1517.2ZM1124.4 1497.6H1129.4L1140.3 1516.4V1521.3H1113.7V1516.4ZM1127.4 1496.8H1132.4L1143.3 1515.5V1520.5H1116.7V1515.5ZM1130.4 1495.9H1135.4L1146.3 1514.7V1519.6H1119.7V1514.7ZM1133.4 1495.1H1138.4L1149.3 1513.8V1518.8H1122.7V1513.8ZM1136.4 1494.2H1141.4L1152.3 1513.0V1517.9H1125.7V1513.0ZM1139.4 1493.4H1144.4L1155.3 1512.1V1517.1H1128.7V1512.1ZM1142.4 1492.5H1147.4L1158.3 1511.3V1516.2H1131.7V1511.3ZM1145.4 1491.7H1150.4L1161.3 1510.5V1515.4H1134.7V1510.5ZM1148.4 1490.9H1153.4L1164.3 1509.6V1514.6H1137.7V1509.6ZM1151.4 1490.0H1156.4L1167.3 1508.8V1513.7H1140.7V1508.8ZM1154.4 1489.2H1159.4L1170.3 1508.0V1512.9H1143.7V1508.0ZM1157.4 1488.5H1162.4L1173.3 1507.3V1512.2H1146.7V1507.3ZM1160.4 1487.9H1165.4L1176.3 1506.6V1511.6H1149.7V1506.6ZM1163.4 1487.2H1168.4L1179.3 1505.9V1510.9H1152.7V1505.9ZM1166.4 1486.5H1171.4L1182.3 1505.3V1510.2H1155.7V1505.3ZM1169.4 1485.8H1174.4L1185.3 1504.6V1509.5H1158.7V1504.6ZM1172.4 1485.2H1177.4L1188.3 1503.9V1508.9H1161.7V1503.9ZM1175.4 1484.5H1180.4L1191.3 1503.2V1508.2H1164.7V1503.2ZM1178.4 1483.8H1183.4L1194.3 1502.6V1507.5H1167.7V1502.6ZM1181.4 1483.1H1186.4L1197.3 1501.9V1506.8H1170.7V1501.9ZM1184.4 1482.5H1189.4L1200.3 1501.2V1506.2H1173.7V1501.2ZM1187.4 1481.8H1192.4L1203.3 1500.5V1505.5H1176.7V1500.5ZM1190.4 1481.1H1195.4L1206.3 1499.9V1504.8H1179.7V1499.9ZM1193.4 1480.4H1198.4L1209.3 1499.1V1504.1H1182.7V1499.1ZM1196.4 1479.6H1201.4L1212.3 1498.3V1503.3H1185.7V1498.3ZM1199.4 1478.7H1204.4L1215.3 1497.5V1502.4H1188.7V1497.5ZM1202.4 1477.9H1207.4L1218.3 1496.7V1501.6H1191.7V1496.7ZM1205.4 1477.1H1210.4L1221.3 1495.9V1500.8H1194.7V1495.9ZM1208.4 1476.3H1213.4L1224.3 1495.1V1500.0H1197.7V1495.1ZM1211.4 1475.5H1216.4L1227.3 1494.2V1499.2H1200.7V1494.2ZM1214.4 1474.7H1219.4L1230.3 1493.4V1498.4H1203.7V1493.4ZM1217.4 1473.9H1222.4L1233.3 1492.6V1497.6H1206.7V1492.6ZM1220.4 1473.0H1225.4L1236.3 1491.8V1496.7H1209.7V1491.8ZM1223.4 1472.2H1228.4L1239.3 1491.0V1495.9H1212.7V1491.0ZM1226.4 1471.4H1231.4L1242.3 1490.2V1495.1H1215.7V1490.2ZM1229.4 1470.6H1234.4L1245.3 1489.3V1494.3H1218.7V1489.3ZM1232.4 1469.9H1237.4L1248.3 1488.6V1493.5H1221.7V1488.6ZM1235.4 1469.3H1240.4L1251.3 1488.0V1493.0H1224.7V1488.0ZM1238.4 1468.7H1243.4L1254.3 1487.4V1492.3H1227.7V1487.4ZM1241.4 1468.1H1246.4L1257.3 1486.8V1491.8H1230.7V1486.8ZM1244.4 1467.5H1249.4L1260.3 1486.2V1491.1H1233.7V1486.2ZM1247.4 1466.9H1252.4L1263.3 1485.6V1490.5H1236.7V1485.6ZM1250.4 1466.2H1255.4L1266.3 1485.0V1489.9H1239.7V1485.0ZM1253.4 1465.7H1258.4L1269.3 1484.4V1489.3H1242.7V1484.4ZM1256.4 1465.0H1261.4L1272.3 1483.8V1488.7H1245.7V1483.8ZM1259.4 1464.5H1264.4L1275.3 1483.2V1488.1H1248.7V1483.2ZM1262.4 1463.9H1267.4L1278.3 1482.6V1487.5H1251.7V1482.6ZM1265.4 1463.2H1270.4L1281.3 1482.0V1486.9H1254.7V1482.0ZM1268.4 1462.7H1273.4L1284.3 1481.4V1486.3H1257.7V1481.4ZM1271.4 1462.0H1276.4L1287.3 1480.7V1485.7H1260.7V1480.7ZM1274.4 1461.2H1279.4L1290.3 1479.9V1484.9H1263.7V1479.9ZM1277.4 1460.3H1282.4L1293.3 1479.1V1484.0H1266.7V1479.1ZM1280.4 1459.5H1285.4L1296.3 1478.3V1483.2H1269.7V1478.3ZM1283.4 1458.7H1288.4L1299.3 1477.4V1482.4H1272.7V1477.4ZM1286.4 1457.9H1291.4L1302.3 1476.6V1481.6H1275.7V1476.6ZM1289.4 1457.0H1294.4L1305.3 1475.8V1480.7H1278.7V1475.8ZM1292.4 1456.2H1297.4L1308.3 1475.0V1479.9H1281.7V1475.0ZM1295.4 1455.4H1300.4L1311.3 1474.1V1479.1H1284.7V1474.1ZM1298.4 1454.6H1303.4L1314.3 1473.3V1478.3H1287.7V1473.3ZM1301.4 1453.7H1306.4L1317.3 1472.5V1477.4H1290.7V1472.5ZM1304.4 1452.9H1309.4L1320.3 1471.7V1476.6H1293.7V1471.7ZM1307.4 1452.1H1312.4L1323.3 1470.8V1475.8H1296.7V1470.8ZM1310.4 1451.2H1315.4L1326.3 1469.9V1474.9H1299.7V1469.9ZM1313.4 1450.1H1318.4L1329.3 1468.9V1473.8H1302.7V1468.9ZM1316.4 1449.0H1321.4L1332.3 1467.8V1472.7H1305.7V1467.8ZM1319.4 1448.0H1324.4L1335.3 1466.7V1471.7H1308.7V1466.7ZM1322.4 1446.9H1327.4L1338.3 1465.6V1470.6H1311.7V1465.6ZM1325.4 1445.8H1330.4L1341.3 1464.6V1469.5H1314.7V1464.6ZM1328.4 1444.8H1333.4L1344.3 1463.5V1468.4H1317.7V1463.5ZM1331.4 1443.7H1336.4L1347.3 1462.4V1467.4H1320.7V1462.4ZM1334.4 1442.6H1339.4L1350.3 1461.4V1466.3H1323.7V1461.4ZM1337.4 1441.5H1342.4L1353.3 1460.3V1465.2H1326.7V1460.3ZM1340.4 1440.5H1345.4L1356.3 1459.2V1464.2H1329.7V1459.2ZM1343.4 1439.4H1348.4L1359.3 1458.1V1463.1H1332.7V1458.1ZM1346.4 1438.3H1351.4L1362.3 1457.1V1462.0H1335.7V1457.1ZM1349.4 1437.3H1354.4L1365.3 1456.1V1461.0H1338.7V1456.1ZM1352.4 1436.3H1357.4L1368.3 1455.1V1460.0H1341.7V1455.1ZM1355.4 1435.4H1360.4L1371.3 1454.1V1459.1H1344.7V1454.1ZM1358.4 1434.4H1363.4L1374.3 1453.1V1458.1H1347.7V1453.1ZM1361.4 1433.4H1366.4L1377.3 1452.2V1457.1H1350.7V1452.2ZM1364.4 1432.5H1369.4L1380.3 1451.2V1456.2H1353.7V1451.2ZM1367.4 1431.5H1372.4L1383.3 1450.2V1455.2H1356.7V1450.2ZM1370.4 1430.5H1375.4L1386.3 1449.3V1454.2H1359.7V1449.3ZM1373.4 1429.6H1378.4L1389.3 1448.3V1453.2H1362.7V1448.3ZM1376.4 1428.6H1381.4L1392.3 1447.3V1452.3H1365.7V1447.3ZM1379.4 1427.6H1384.4L1395.3 1446.4V1451.3H1368.7V1446.4ZM1382.4 1426.6H1387.4L1398.3 1445.4V1450.3H1371.7V1445.4ZM1385.4 1425.7H1390.4L1401.3 1444.4V1449.4H1374.7V1444.4ZM1388.4 1424.7H1393.4L1404.3 1443.4V1448.4H1377.7V1443.4ZM1391.4 1423.7H1396.4L1407.3 1442.4V1447.3H1380.7V1442.4ZM1394.4 1422.6H1399.4L1410.3 1441.4V1446.3H1383.7V1441.4ZM1397.4 1421.6H1402.4L1413.3 1440.4V1445.3H1386.7V1440.4ZM1400.4 1420.6H1405.4L1416.3 1439.3V1444.3H1389.7V1439.3ZM1403.4 1419.6H1408.4L1419.3 1438.3V1443.3H1392.7V1438.3ZM1406.4 1418.6H1411.4L1422.3 1437.3V1442.2H1395.7V1437.3ZM1409.4 1418.0H1414.4L1425.3 1436.8V1441.7H1398.7V1436.8ZM1412.4 1417.5H1417.4L1428.3 1436.3V1441.2H1401.7V1436.3ZM1415.4 1417.0H1420.4L1431.3 1435.7V1440.7H1404.7V1435.7ZM1418.4 1416.5H1423.4L1434.3 1435.2V1440.2H1407.7V1435.2ZM1421.4 1415.9H1426.4L1437.3 1434.7V1439.6H1410.7V1434.7ZM1424.4 1415.4H1429.4L1440.3 1434.2V1439.1H1413.7V1434.2ZM1427.4 1414.9H1432.4L1443.3 1433.6V1438.6H1416.7V1433.6ZM1430.4 1414.4H1435.4L1446.3 1433.1V1438.1H1419.7V1433.1ZM1433.4 1413.8H1438.4L1449.3 1432.6V1437.5H1422.7V1432.6ZM1436.4 1413.3H1441.4L1452.3 1432.1V1437.0H1425.7V1432.1ZM1439.4 1412.4H1444.4L1455.3 1431.1V1436.0H1428.7V1431.1ZM1442.4 1411.2H1447.4L1458.3 1429.9V1434.8H1431.7V1429.9ZM1445.4 1410.0H1450.4L1461.3 1428.7V1433.6H1434.7V1428.7ZM1448.4 1408.8H1453.4L1464.3 1427.5V1432.5H1437.7V1427.5ZM1451.4 1407.6H1456.4L1467.3 1426.3V1431.2H1440.7V1426.3ZM1454.4 1406.4H1459.4L1470.3 1425.1V1430.0H1443.7V1425.1ZM1457.4 1405.2H1462.4L1473.3 1423.9V1428.8H1446.7V1423.9ZM1460.4 1404.0H1465.4L1476.3 1422.7V1427.7H1449.7V1422.7ZM1463.4 1402.8H1468.4L1479.3 1421.5V1426.5H1452.7V1421.5ZM1466.4 1401.6H1471.4L1482.3 1420.3V1425.2H1455.7V1420.3ZM1469.4 1400.4H1474.4L1485.3 1419.2V1424.1H1458.7V1419.2ZM1472.4 1399.3H1477.4L1488.3 1418.1V1423.0H1461.7V1418.1ZM1475.4 1398.2H1480.4L1491.3 1417.0V1421.9H1464.7V1417.0ZM1478.4 1397.1H1483.4L1494.3 1415.9V1420.8H1467.7V1415.9ZM1481.4 1396.0H1486.4L1497.3 1414.8V1419.7H1470.7V1414.8ZM1484.4 1394.9H1489.4L1500.3 1413.7V1418.6H1473.7V1413.7ZM1487.4 1393.8H1492.4L1503.3 1412.6V1417.5H1476.7V1412.6ZM1490.4 1392.7H1495.4L1506.3 1411.4V1416.4H1479.7V1411.4ZM1493.4 1391.6H1498.4L1509.3 1410.3V1415.3H1482.7V1410.3ZM1496.4 1390.5H1501.4L1512.3 1409.2V1414.2H1485.7V1409.2ZM1499.4 1389.4H1504.4L1515.3 1408.1V1413.1H1488.7V1408.1ZM1502.4 1388.3H1507.4L1518.3 1407.0V1412.0H1491.7V1407.0ZM1505.4 1387.2H1510.4L1521.3 1405.9V1410.9H1494.7V1405.9ZM1508.4 1386.1H1513.4L1524.3 1404.8V1409.8H1497.7V1404.8ZM1511.4 1384.9H1516.4L1527.3 1403.7V1408.6H1500.7V1403.7ZM1514.4 1383.8H1519.4L1530.3 1402.6V1407.5H1503.7V1402.6ZM1517.4 1382.7H1522.4L1533.3 1401.5V1406.4H1506.7V1401.5ZM1520.4 1381.6H1525.4L1536.3 1400.4V1405.3H1509.7V1400.4ZM1523.4 1380.5H1528.4L1539.3 1399.3V1404.2H1512.7V1399.3ZM1526.4 1379.1H1531.4L1542.3 1397.8V1402.8H1515.7V1397.8ZM1529.4 1377.5H1534.4L1545.3 1396.2V1401.2H1518.7V1396.2ZM1532.4 1375.9H1537.4L1548.3 1394.6V1399.6H1521.7V1394.6ZM1535.4 1374.3H1540.4L1551.3 1393.0V1398.0H1524.7V1393.0ZM1538.4 1372.7H1543.4L1554.3 1391.4V1396.4H1527.7V1391.4ZM1541.4 1371.1H1546.4L1557.3 1389.8V1394.8H1530.7V1389.8ZM1544.4 1369.5H1549.4L1560.3 1388.2V1393.2H1533.7V1388.2ZM1547.4 1367.9H1552.4L1563.3 1386.6V1391.6H1536.7V1386.6ZM1550.4 1366.3H1555.4L1566.3 1385.0V1390.0H1539.7V1385.0ZM1553.4 1364.7H1558.4L1569.3 1383.4V1388.3H1542.7V1383.4ZM1556.4 1363.6H1561.4L1572.3 1382.4V1387.3H1545.7V1382.4ZM1559.4 1362.6H1564.4L1575.3 1381.3V1386.3H1548.7V1381.3ZM1562.4 1361.6H1567.4L1578.3 1380.3V1385.3H1551.7V1380.3ZM1565.4 1360.5H1570.4L1581.3 1379.3V1384.2H1554.7V1379.3ZM1568.4 1359.5H1573.4L1584.3 1378.2V1383.2H1557.7V1378.2ZM1571.4 1359.0H1576.4L1587.3 1377.8V1382.7H1560.7V1377.8ZM1574.4 1358.8H1579.4L1590.3 1377.5V1382.5H1563.7V1377.5ZM1577.4 1358.6H1582.4L1593.3 1377.3V1382.3H1566.7V1377.3ZM1580.4 1358.4H1585.4L1596.3 1377.1V1382.1H1569.7V1377.1ZM1583.4 1358.2H1588.4L1599.3 1376.9V1381.8H1572.7V1376.9ZM1586.4 1357.9H1591.4L1602.3 1376.7V1381.6H1575.7V1376.7ZM1589.4 1357.7H1594.4L1605.3 1376.5V1381.4H1578.7V1376.5ZM1592.4 1357.5H1597.4L1608.3 1376.3V1381.2H1581.7V1376.3ZM1595.4 1357.3H1600.4L1611.3 1376.0V1381.0H1584.7V1376.0ZM1598.4 1356.6H1603.4L1614.3 1375.3V1380.2H1587.7V1375.3ZM1601.4 1354.8H1606.4L1617.3 1373.5V1378.4H1590.7V1373.5ZM1604.4 1353.0H1609.4L1620.3 1371.7V1376.6H1593.7V1371.7ZM1607.4 1351.2H1612.4L1623.3 1369.9V1374.8H1596.7V1369.9ZM1610.4 1349.4H1615.4L1626.3 1368.1V1373.0H1599.7V1368.1ZM1613.4 1347.7H1618.4L1629.3 1366.5V1371.4H1602.7V1366.5ZM1616.4 1346.5H1621.4L1632.3 1365.3V1370.2H1605.7V1365.3ZM1619.4 1345.3H1624.4L1635.3 1364.0V1369.0H1608.7V1364.0ZM1622.4 1344.0H1627.4L1638.3 1362.8V1367.7H1611.7V1362.8ZM1625.4 1342.8H1630.4L1641.3 1361.6V1366.5H1614.7V1361.6ZM1628.4 1341.6H1633.4L1644.3 1360.3V1365.3H1617.7V1360.3ZM1631.4 1340.4H1636.4L1647.3 1359.1V1364.0H1620.7V1359.1ZM1634.4 1338.7H1639.4L1650.3 1357.5V1362.4H1623.7V1357.5ZM1637.4 1337.1H1642.4L1653.3 1355.8V1360.8H1626.7V1355.8ZM1640.4 1335.5H1645.4L1656.3 1354.2V1359.2H1629.7V1354.2ZM1643.4 1333.8H1648.4L1659.3 1352.6V1357.5H1632.7V1352.6ZM1646.4 1332.2H1651.4L1662.3 1350.9V1355.9H1635.7V1350.9ZM1649.4 1330.6H1654.4L1665.3 1349.3V1354.3H1638.7V1349.3ZM1652.4 1328.9H1657.4L1668.3 1347.7V1352.6H1641.7V1347.7ZM1655.4 1327.3H1660.4L1671.3 1346.0V1351.0H1644.7V1346.0ZM1658.4 1325.6H1663.4L1674.3 1344.4V1349.3H1647.7V1344.4ZM1661.4 1324.0H1666.4L1677.3 1342.7V1347.7H1650.7V1342.7ZM1664.4 1322.3H1669.4L1680.3 1341.1V1346.0H1653.7V1341.1ZM1667.4 1320.7H1672.4L1683.3 1339.4V1344.4H1656.7V1339.4ZM1670.4 1319.1H1675.4L1686.3 1337.8V1342.8H1659.7V1337.8ZM1673.4 1317.8H1678.4L1689.3 1336.6V1341.5H1662.7V1336.6ZM1676.4 1316.6H1681.4L1692.3 1335.3V1340.3H1665.7V1335.3ZM1679.4 1315.4H1684.4L1695.3 1334.1V1339.1H1668.7V1334.1ZM1682.4 1314.1H1687.4L1698.3 1332.9V1337.8H1671.7V1332.9ZM1685.4 1312.9H1690.4L1701.3 1331.6V1336.6H1674.7V1331.6ZM1688.4 1311.7H1693.4L1704.3 1330.4V1335.4H1677.7V1330.4ZM1691.4 1309.9H1696.4L1707.3 1328.6V1333.6H1680.7V1328.6ZM1694.4 1307.8H1699.4L1710.3 1326.6V1331.5H1683.7V1326.6ZM1697.4 1305.8H1702.4L1713.3 1324.6V1329.5H1686.7V1324.6ZM1700.4 1303.8H1705.4L1716.3 1322.5V1327.5H1689.7V1322.5ZM1703.4 1301.7H1708.4L1719.3 1320.5V1325.4H1692.7V1320.5ZM1706.4 1299.7H1711.4L1722.3 1318.4V1323.4H1695.7V1318.4ZM1709.4 1297.7H1714.4L1725.3 1316.4V1321.3H1698.7V1316.4ZM1712.4 1296.0H1717.4L1728.3 1314.7V1319.7H1701.7V1314.7ZM1715.4 1294.3H1720.4L1731.3 1313.1V1318.0H1704.7V1313.1ZM1718.4 1292.6H1723.4L1734.3 1311.4V1316.3H1707.7V1311.4ZM1721.4 1291.0H1726.4L1737.3 1309.7V1314.7H1710.7V1309.7ZM1724.4 1289.3H1729.4L1740.3 1308.0V1313.0H1713.7V1308.0ZM1727.4 1287.6H1732.4L1743.3 1306.4V1311.3H1716.7V1306.4ZM1730.4 1285.5H1735.4L1746.3 1304.2V1309.2H1719.7V1304.2ZM1733.4 1283.2H1738.4L1749.3 1301.9V1306.8H1722.7V1301.9ZM1736.4 1280.8H1741.4L1752.3 1299.6V1304.5H1725.7V1299.6ZM1739.4 1279.2H1744.4L1755.3 1298.0V1302.9H1728.7V1298.0ZM1742.4 1279.2H1747.4L1758.3 1297.9V1302.9H1731.7V1297.9ZM1745.4 1279.1H1750.4L1761.3 1297.8V1302.8H1734.7V1297.8ZM1748.4 1279.0H1753.4L1764.3 1297.8V1302.7H1737.7V1297.8ZM1751.4 1279.0H1756.4L1767.3 1297.7V1302.7H1740.7V1297.7ZM1754.4 1278.9H1759.4L1770.3 1297.6V1302.6H1743.7V1297.6ZM1757.4 1278.8H1762.4L1773.3 1297.6V1302.5H1746.7V1297.6ZM1760.4 1278.8H1765.4L1776.3 1297.5V1302.5H1749.7V1297.5ZM1763.4 1278.7H1768.4L1779.3 1297.4V1302.4H1752.7V1297.4ZM1766.4 1277.8H1771.4L1782.3 1296.6V1301.5H1755.7V1296.6ZM1769.4 1275.3H1774.4L1785.3 1294.0V1299.0H1758.7V1294.0ZM1772.4 1272.7H1777.4L1788.3 1291.5V1296.4H1761.7V1291.5ZM1775.4 1270.2H1780.4L1791.3 1288.9V1293.9H1764.7V1288.9ZM1778.4 1267.6H1783.4L1794.3 1286.4V1291.3H1767.7V1286.4ZM1781.4 1265.1H1786.4L1797.3 1283.8V1288.8H1770.7V1283.8ZM1784.4 1262.5H1789.4L1800.3 1281.3V1286.2H1773.7V1281.3ZM1787.4 1260.2H1792.4L1803.3 1279.0V1283.9H1776.7V1279.0ZM1790.4 1258.3H1795.4L1806.3 1277.1V1282.0H1779.7V1277.1ZM1793.4 1256.4H1798.4L1809.3 1275.2V1280.1H1782.7V1275.2ZM1796.4 1254.5H1801.4L1812.3 1273.2V1278.2H1785.7V1273.2ZM1799.4 1252.6H1804.4L1815.3 1271.3V1276.3H1788.7V1271.3ZM1802.4 1250.7H1807.4L1818.3 1269.4V1274.4H1791.7V1269.4ZM1805.4 1248.8H1810.4L1821.3 1267.5V1272.5H1794.7V1267.5ZM1808.4 1244.9H1813.4L1824.3 1263.7V1268.6H1797.7V1263.7ZM1811.4 1240.1H1816.4L1827.3 1258.8V1263.8H1800.7V1258.8ZM1814.4 1235.2H1819.4L1830.3 1254.0V1258.9H1803.7V1254.0ZM1817.4 1233.0H1822.4L1833.3 1251.7V1256.6H1806.7V1251.7ZM1820.4 1230.7H1825.4L1836.3 1249.4V1254.3H1809.7V1249.4ZM1823.4 1228.4H1828.4L1839.3 1247.1V1252.0H1812.7V1247.1ZM1826.4 1226.1H1831.4L1842.3 1244.8V1249.8H1815.7V1244.8ZM1829.4 1223.8H1834.4L1845.3 1242.5V1247.4H1818.7V1242.5ZM1832.4 1221.5H1837.4L1848.3 1240.2V1245.1H1821.7V1240.2ZM1835.4 1219.2H1840.4L1851.3 1237.9V1242.8H1824.7V1237.9ZM1838.4 1216.9H1843.4L1854.3 1235.6V1240.5H1827.7V1235.6ZM1841.4 1214.3H1846.4L1857.3 1233.0V1238.0H1830.7V1233.0ZM1844.4 1211.7H1849.4L1860.3 1230.5V1235.4H1833.7V1230.5ZM1847.4 1209.2H1852.4L1863.3 1227.9V1232.9H1836.7V1227.9ZM1850.4 1206.6H1855.4L1866.3 1225.4V1230.3H1839.7V1225.4ZM1853.4 1204.1H1858.4L1869.3 1222.8V1227.8H1842.7V1222.8ZM1856.4 1201.5H1861.4L1872.3 1220.3V1225.2H1845.7V1220.3ZM1859.4 1198.1H1864.4L1875.3 1216.8V1221.8H1848.7V1216.8ZM1862.4 1194.2H1867.4L1878.3 1212.9V1217.8H1851.7V1212.9ZM1865.4 1190.0H1870.4L1881.3 1208.8V1213.7H1854.7V1208.8ZM1868.4 1186.6H1873.4L1884.3 1205.4V1210.3H1857.7V1205.4ZM1871.4 1184.8H1876.4L1887.3 1203.5V1208.4H1860.7V1203.5ZM1874.4 1182.9H1879.4L1890.3 1201.6V1206.6H1863.7V1201.6ZM1877.4 1178.5H1882.4L1893.3 1197.3V1202.2H1866.7V1197.3ZM1880.4 1174.7H1885.4L1896.3 1193.5V1198.4H1869.7V1193.5ZM1883.4 1171.8H1888.4L1899.3 1190.5V1195.5H1872.7V1190.5ZM1886.4 1168.9H1891.4L1902.3 1187.6V1192.5H1875.7V1187.6ZM1889.4 1164.8H1894.4L1905.3 1183.6V1188.5H1878.7V1183.6ZM1892.4 1161.6H1897.4L1908.3 1180.3V1185.3H1881.7V1180.3ZM1895.4 1159.9H1900.4L1911.3 1178.7V1183.6H1884.7V1178.7ZM1898.4 1158.2H1903.4L1914.3 1177.0V1181.9H1887.7V1177.0ZM1901.4 1156.5H1906.4L1917.3 1175.3V1180.2H1890.7V1175.3ZM1904.4 1154.8H1909.4L1920.3 1173.6V1178.5H1893.7V1173.6ZM1907.4 1153.2H1912.4L1923.3 1171.9V1176.8H1896.7V1171.9ZM1910.4 1151.9H1915.4L1926.3 1170.6V1175.6H1899.7V1170.6ZM1913.4 1150.6H1918.4L1929.3 1169.4V1174.3H1902.7V1169.4ZM1916.4 1149.3H1921.4L1932.3 1168.1V1173.0H1905.7V1168.1ZM1919.4 1148.1H1924.4L1935.3 1166.8V1171.8H1908.7V1166.8ZM1922.4 1145.8H1927.4L1938.3 1164.6V1169.5H1911.7V1164.6ZM1925.4 1143.1H1930.4L1941.3 1161.9V1166.8H1914.7V1161.9ZM1928.4 1140.4H1933.4L1944.3 1159.1V1164.1H1917.7V1159.1ZM1931.9 1131.2H1936.9L1947.8 1150.0V1154.9H1921.2V1150.0ZM1939.8 1123.5H1944.8L1955.8 1142.2V1147.1H1929.1V1142.2ZM1947.6 1115.1H1952.6L1963.5 1133.8V1138.8H1936.9V1133.8ZM1950.4 1105.1H1955.4L1966.3 1123.8V1128.8H1939.7V1123.8ZM1958.2 1096.7H1963.2L1974.1 1115.4V1120.3H1947.5V1115.4ZM1963.8 1086.1H1968.8L1979.8 1104.8V1109.8H1953.1V1104.8ZM1969.3 1075.5H1974.3L1985.2 1094.2V1099.1H1958.6V1094.2ZM1974.4 1062.1H1979.4L1990.3 1080.8V1085.8H1963.7V1080.8ZM1982.2 1051.5H1987.2L1998.1 1070.2V1075.1H1971.5V1070.2ZM1987.7 1035.9H1992.7L2003.6 1054.6V1059.5H1977.0V1054.6ZM1993.3 1021.9H1998.3L2009.2 1040.7V1045.6H1982.6V1040.7ZM1998.4 1006.2H2003.4L2014.3 1025.0V1030.0H1987.7V1025.0ZM2003.9 990.1H2008.9L2019.8 1008.9V1013.9H1993.2V1008.9ZM2007.4 980.1H2012.4L2023.3 998.9V1003.9H1996.7V998.9ZM2012.6 971.1H2017.6L2028.5 989.9V994.9H2001.9V989.9ZM2017.7 948.1H2022.7L2033.6 966.9V971.9H2007.0V966.9ZM2024.4 922.9H2029.4L2040.3 941.7V946.6H2013.7V941.7ZM2031.2 894.8H2036.2L2047.1 913.5V918.5H2020.5V913.5ZM2036.4 854.9H2041.4L2052.3 873.6V878.6H2025.7V873.6ZM2041.8 817.9H2046.8L2057.8 836.6V841.6H2031.1V836.6ZM2047.0 753.8H2052.0L2062.9 772.5V777.5H2036.2V772.5ZM2054.8 695.1H2059.8L2070.8 713.9V718.9H2044.1V713.9ZM2059.1 482.1H2064.1L2075.0 500.9V505.9H2048.3V500.9ZM2066.0 282.1H2071.0L2081.9 300.9V305.9H2055.2V300.9Z"/>
<path d="M260.8 63.6H265.8L276.8 82.3V87.2H250.0V82.3Z" fill="#ff0000"/>
<text x="368" y="103.6" class="tx">ASME code, <tspan font-style="italic">D</tspan><tspan font-style="italic" font-size="46" dy="20">i</tspan><tspan dy="-20">=230 mm</tspan></text>
<text x="356" y="215" class="tx"><tspan font-style="italic">f</tspan><tspan dx="11">=0.1</tspan></text>
<text x="370" y="308.5" class="tx"><tspan font-style="italic">t</tspan>/<tspan font-style="italic">D</tspan><tspan font-style="italic" font-size="46" dy="20">i</tspan><tspan dy="-20">=1.2</tspan></text>
<text x="368" y="416" class="tx"><tspan font-style="italic">R</tspan>=4000 mm</text>
<text transform="translate(87 849.4) rotate(-90)" text-anchor="middle" class="tx" style="font-size:85px" textLength="277" lengthAdjust="spacingAndGlyphs">Damage</text>
<text x="1074.3" y="1878" class="tx" style="font-size:85px;font-style:italic" textLength="61.5" lengthAdjust="spacingAndGlyphs">N</text>
<text x="1152.7" y="1878" class="tx" style="font-size:85px">(</text>
<text x="1181" y="1878" class="tx" style="font-size:85px">cycles</text>
<text x="1396.5" y="1878" class="tx" style="font-size:85px">)</text>
<text x="26.5" y="2000" class="tx" style="font-size:88px">(</text>
<text x="53.5" y="2000" class="tx" style="font-size:88px;font-weight:bold">a</text>
<text x="92.5" y="2000" class="tx" style="font-size:88px">)</text>
<text x="890.0" y="175.4" class="sdv">SDV1</text>
<rect x="871.0" y="198.0" width="75.5" height="49.8" fill="rgb(236,0,0)"/>
<rect x="871.0" y="247.3" width="75.5" height="49.8" fill="rgb(250,92,10)"/>
<rect x="871.0" y="296.7" width="75.5" height="49.8" fill="rgb(250,182,10)"/>
<rect x="871.0" y="346.0" width="75.5" height="49.8" fill="rgb(232,252,10)"/>
<rect x="871.0" y="395.3" width="75.5" height="49.8" fill="rgb(140,250,10)"/>
<rect x="871.0" y="444.6" width="75.5" height="49.8" fill="rgb(40,245,10)"/>
<rect x="871.0" y="494.0" width="75.5" height="49.8" fill="rgb(5,240,40)"/>
<rect x="871.0" y="543.3" width="75.5" height="49.8" fill="rgb(5,240,130)"/>
<rect x="871.0" y="592.6" width="75.5" height="49.8" fill="rgb(5,250,225)"/>
<rect x="871.0" y="642.0" width="75.5" height="49.8" fill="rgb(5,182,250)"/>
<rect x="871.0" y="691.3" width="75.5" height="49.8" fill="rgb(10,90,240)"/>
<rect x="871.0" y="740.6" width="75.5" height="49.8" fill="rgb(5,0,240)"/>
<rect x="871.0" y="245.8" width="75.5" height="4" fill="rgb(129,0,0)"/>
<rect x="871.0" y="295.2" width="75.5" height="4" fill="rgb(137,46,5)"/>
<rect x="871.0" y="344.5" width="75.5" height="4" fill="rgb(137,91,5)"/>
<rect x="871.0" y="393.8" width="75.5" height="4" fill="rgb(127,126,5)"/>
<rect x="871.0" y="443.1" width="75.5" height="4" fill="rgb(77,125,5)"/>
<rect x="871.0" y="492.5" width="75.5" height="4" fill="rgb(22,122,5)"/>
<rect x="871.0" y="541.8" width="75.5" height="4" fill="rgb(2,120,22)"/>
<rect x="871.0" y="591.1" width="75.5" height="4" fill="rgb(2,120,71)"/>
<rect x="871.0" y="640.5" width="75.5" height="4" fill="rgb(2,125,123)"/>
<rect x="871.0" y="689.8" width="75.5" height="4" fill="rgb(2,91,137)"/>
<rect x="871.0" y="739.1" width="75.5" height="4" fill="rgb(5,45,132)"/>
<rect x="872.5" y="199.5" width="72.5" height="589.0" fill="none" stroke="#303030" stroke-opacity="0.6" stroke-width="3"/>
<rect x="946.5" y="196.0" width="24" height="4" fill="#808080"/>
<text x="970.5" y="217.9" class="lg" textLength="222.92" lengthAdjust="spacing">+1.012<tspan class="mx">&#215;</tspan>10</text>
<text x="1193.42" y="206.9" class="lg ex">0</text>
<rect x="946.5" y="245.3" width="24" height="4" fill="#808080"/>
<text x="970.5" y="266.7" class="lg" textLength="222.92" lengthAdjust="spacing">+9.193<tspan class="mx">&#215;</tspan>10</text>
<text x="1193.42" y="255.7" class="lg ex">-1</text>
<rect x="946.5" y="294.7" width="24" height="4" fill="#808080"/>
<text x="970.5" y="315.5" class="lg" textLength="222.92" lengthAdjust="spacing">+8.266<tspan class="mx">&#215;</tspan>10</text>
<text x="1193.42" y="304.5" class="lg ex">-1</text>
<rect x="946.5" y="344.0" width="24" height="4" fill="#808080"/>
<text x="970.5" y="364.4" class="lg" textLength="222.92" lengthAdjust="spacing">+7.338<tspan class="mx">&#215;</tspan>10</text>
<text x="1193.42" y="353.4" class="lg ex">-1</text>
<rect x="946.5" y="393.3" width="24" height="4" fill="#808080"/>
<text x="970.5" y="413.2" class="lg" textLength="222.92" lengthAdjust="spacing">+6.410<tspan class="mx">&#215;</tspan>10</text>
<text x="1193.42" y="402.2" class="lg ex">-1</text>
<rect x="946.5" y="442.6" width="24" height="4" fill="#808080"/>
<text x="970.5" y="462.0" class="lg" textLength="222.92" lengthAdjust="spacing">+5.483<tspan class="mx">&#215;</tspan>10</text>
<text x="1193.42" y="451.0" class="lg ex">-1</text>
<rect x="946.5" y="492.0" width="24" height="4" fill="#808080"/>
<text x="970.5" y="510.8" class="lg" textLength="222.92" lengthAdjust="spacing">+4.555<tspan class="mx">&#215;</tspan>10</text>
<text x="1193.42" y="499.8" class="lg ex">-1</text>
<rect x="946.5" y="541.3" width="24" height="4" fill="#808080"/>
<text x="970.5" y="559.6" class="lg" textLength="222.92" lengthAdjust="spacing">+3.628<tspan class="mx">&#215;</tspan>10</text>
<text x="1193.42" y="548.6" class="lg ex">-1</text>
<rect x="946.5" y="590.6" width="24" height="4" fill="#808080"/>
<text x="970.5" y="608.5" class="lg" textLength="222.92" lengthAdjust="spacing">+2.700<tspan class="mx">&#215;</tspan>10</text>
<text x="1193.42" y="597.5" class="lg ex">-1</text>
<rect x="946.5" y="640.0" width="24" height="4" fill="#808080"/>
<text x="970.5" y="657.3" class="lg" textLength="222.92" lengthAdjust="spacing">+1.772<tspan class="mx">&#215;</tspan>10</text>
<text x="1193.42" y="646.3" class="lg ex">-1</text>
<rect x="946.5" y="689.3" width="24" height="4" fill="#808080"/>
<text x="970.5" y="706.1" class="lg" textLength="222.92" lengthAdjust="spacing">+8.448<tspan class="mx">&#215;</tspan>10</text>
<text x="1193.42" y="695.1" class="lg ex">-2</text>
<rect x="946.5" y="738.6" width="24" height="4" fill="#808080"/>
<text x="970.5" y="754.9" class="lg" textLength="206.63" lengthAdjust="spacing">-8.282<tspan class="mx">&#215;</tspan>10</text>
<text x="1177.13" y="743.9" class="lg ex">-3</text>
<rect x="946.5" y="788.0" width="24" height="4" fill="#808080"/>
<text x="970.5" y="803.7" class="lg" textLength="206.63" lengthAdjust="spacing">-1.010<tspan class="mx">&#215;</tspan>10</text>
<text x="1177.13" y="792.7" class="lg ex">-1</text>
<text x="289.0" y="833.4" class="sdv">SDV1</text>
<rect x="289.6" y="868.5" width="75.5" height="49.2" fill="rgb(236,0,0)"/>
<rect x="289.6" y="917.2" width="75.5" height="49.2" fill="rgb(250,92,10)"/>
<rect x="289.6" y="965.9" width="75.5" height="49.2" fill="rgb(250,182,10)"/>
<rect x="289.6" y="1014.6" width="75.5" height="49.2" fill="rgb(232,252,10)"/>
<rect x="289.6" y="1063.3" width="75.5" height="49.2" fill="rgb(140,250,10)"/>
<rect x="289.6" y="1112.0" width="75.5" height="49.2" fill="rgb(40,245,10)"/>
<rect x="289.6" y="1160.7" width="75.5" height="49.2" fill="rgb(5,240,40)"/>
<rect x="289.6" y="1209.4" width="75.5" height="49.2" fill="rgb(5,240,130)"/>
<rect x="289.6" y="1258.1" width="75.5" height="49.2" fill="rgb(5,250,225)"/>
<rect x="289.6" y="1306.8" width="75.5" height="49.2" fill="rgb(5,182,250)"/>
<rect x="289.6" y="1355.5" width="75.5" height="49.2" fill="rgb(10,90,240)"/>
<rect x="289.6" y="1404.2" width="75.5" height="49.2" fill="rgb(5,0,240)"/>
<rect x="289.6" y="915.7" width="75.5" height="4" fill="rgb(129,0,0)"/>
<rect x="289.6" y="964.4" width="75.5" height="4" fill="rgb(137,46,5)"/>
<rect x="289.6" y="1013.1" width="75.5" height="4" fill="rgb(137,91,5)"/>
<rect x="289.6" y="1061.8" width="75.5" height="4" fill="rgb(127,126,5)"/>
<rect x="289.6" y="1110.5" width="75.5" height="4" fill="rgb(77,125,5)"/>
<rect x="289.6" y="1159.2" width="75.5" height="4" fill="rgb(22,122,5)"/>
<rect x="289.6" y="1207.9" width="75.5" height="4" fill="rgb(2,120,22)"/>
<rect x="289.6" y="1256.6" width="75.5" height="4" fill="rgb(2,120,71)"/>
<rect x="289.6" y="1305.3" width="75.5" height="4" fill="rgb(2,125,123)"/>
<rect x="289.6" y="1354.0" width="75.5" height="4" fill="rgb(2,91,137)"/>
<rect x="289.6" y="1402.7" width="75.5" height="4" fill="rgb(5,45,132)"/>
<rect x="291.1" y="870.0" width="72.5" height="581.4" fill="none" stroke="#303030" stroke-opacity="0.6" stroke-width="3"/>
<rect x="365.1" y="866.5" width="24" height="4" fill="#808080"/>
<text x="386.1" y="886.1" class="lg" textLength="222.92" lengthAdjust="spacing">+1.844<tspan class="mx">&#215;</tspan>10</text>
<text x="609.02" y="875.1" class="lg ex">-1</text>
<rect x="365.1" y="915.2" width="24" height="4" fill="#808080"/>
<text x="386.1" y="934.1" class="lg" textLength="222.92" lengthAdjust="spacing">+1.661<tspan class="mx">&#215;</tspan>10</text>
<text x="609.02" y="923.1" class="lg ex">-1</text>
<rect x="365.1" y="963.9" width="24" height="4" fill="#808080"/>
<text x="386.1" y="982.1" class="lg" textLength="222.92" lengthAdjust="spacing">+1.477<tspan class="mx">&#215;</tspan>10</text>
<text x="609.02" y="971.1" class="lg ex">-1</text>
<rect x="365.1" y="1012.6" width="24" height="4" fill="#808080"/>
<text x="386.1" y="1030.1" class="lg" textLength="222.92" lengthAdjust="spacing">+1.294<tspan class="mx">&#215;</tspan>10</text>
<text x="609.02" y="1019.1" class="lg ex">-1</text>
<rect x="365.1" y="1061.3" width="24" height="4" fill="#808080"/>
<text x="386.1" y="1078.1" class="lg" textLength="222.92" lengthAdjust="spacing">+1.111<tspan class="mx">&#215;</tspan>10</text>
<text x="609.02" y="1067.1" class="lg ex">-1</text>
<rect x="365.1" y="1110.0" width="24" height="4" fill="#808080"/>
<text x="386.1" y="1126.0" class="lg" textLength="222.92" lengthAdjust="spacing">+9.273<tspan class="mx">&#215;</tspan>10</text>
<text x="609.02" y="1115.0" class="lg ex">-2</text>
<rect x="365.1" y="1158.7" width="24" height="4" fill="#808080"/>
<text x="386.1" y="1174.0" class="lg" textLength="222.92" lengthAdjust="spacing">+7.439<tspan class="mx">&#215;</tspan>10</text>
<text x="609.02" y="1163.0" class="lg ex">-2</text>
<rect x="365.1" y="1207.4" width="24" height="4" fill="#808080"/>
<text x="386.1" y="1222.0" class="lg" textLength="222.92" lengthAdjust="spacing">+5.605<tspan class="mx">&#215;</tspan>10</text>
<text x="609.02" y="1211.0" class="lg ex">-2</text>
<rect x="365.1" y="1256.1" width="24" height="4" fill="#808080"/>
<text x="386.1" y="1270.0" class="lg" textLength="222.92" lengthAdjust="spacing">+3.771<tspan class="mx">&#215;</tspan>10</text>
<text x="609.02" y="1259.0" class="lg ex">-2</text>
<rect x="365.1" y="1304.8" width="24" height="4" fill="#808080"/>
<text x="386.1" y="1318.0" class="lg" textLength="222.92" lengthAdjust="spacing">+1.937<tspan class="mx">&#215;</tspan>10</text>
<text x="609.02" y="1307.0" class="lg ex">-2</text>
<rect x="365.1" y="1353.5" width="24" height="4" fill="#808080"/>
<text x="386.1" y="1366.0" class="lg" textLength="222.92" lengthAdjust="spacing">+1.028<tspan class="mx">&#215;</tspan>10</text>
<text x="609.02" y="1355.0" class="lg ex">-3</text>
<rect x="365.1" y="1402.2" width="24" height="4" fill="#808080"/>
<text x="386.1" y="1414.0" class="lg" textLength="206.63" lengthAdjust="spacing">-1.731<tspan class="mx">&#215;</tspan>10</text>
<text x="592.73" y="1403.0" class="lg ex">-2</text>
<rect x="365.1" y="1450.9" width="24" height="4" fill="#808080"/>
<text x="386.1" y="1462.0" class="lg" textLength="206.63" lengthAdjust="spacing">-3.565<tspan class="mx">&#215;</tspan>10</text>
<text x="592.73" y="1451.0" class="lg ex">-2</text>
</svg></body></html>
